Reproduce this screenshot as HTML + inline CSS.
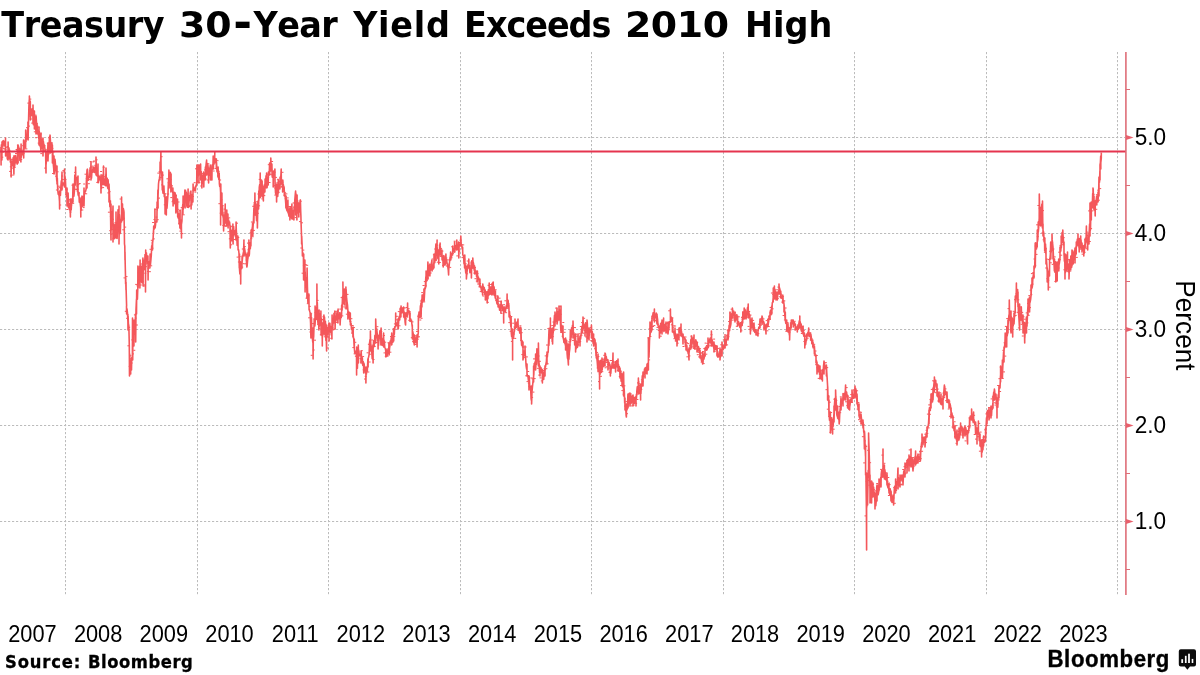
<!DOCTYPE html>
<html lang="en"><head><meta charset="utf-8"><title>Treasury 30-Year Yield Exceeds 2010 High</title>
<style>
html,body{margin:0;padding:0;background:#fff;}
body{width:1200px;height:675px;overflow:hidden;position:relative;}
svg{position:absolute;left:0;top:0;display:block;will-change:transform;}
.title{font-family:"DejaVu Sans","Liberation Sans",sans-serif;font-weight:bold;font-size:33.5px;fill:#000;font-kerning:none;}
.tick{font-family:"Liberation Sans",sans-serif;font-size:23.2px;fill:#000;}
.year{font-family:"Liberation Sans",sans-serif;font-size:22.5px;fill:#000;text-anchor:middle;}
.ylab{font-family:"Liberation Sans",sans-serif;font-size:27.5px;fill:#000;text-anchor:middle;}
.src{font-family:"DejaVu Sans","Liberation Sans",sans-serif;font-weight:bold;font-size:16.4px;fill:#000;letter-spacing:0.55px;stroke:#000;stroke-width:0.3px;}
.logo{font-family:"Liberation Sans",sans-serif;font-weight:bold;font-size:22.2px;fill:#000;letter-spacing:0.6px;stroke:#000;stroke-width:0.35px;}
</style></head><body>
<svg width="1200" height="675" viewBox="0 0 1200 675">
<rect width="1200" height="675" fill="#ffffff"/>
<g class="title"><text transform="translate(1.36,37.2) scale(1,1.057)" letter-spacing="-0.510">Treasury</text> <text transform="translate(179.12,37.2) scale(1.13,1.057)" letter-spacing="-0.168">30</text><text transform="translate(233.30,38.3) scale(1.35,1.34)" letter-spacing="0.000">-</text><text transform="translate(253.45,37.2) scale(1,1.057)" letter-spacing="-0.553">Year</text> <text transform="translate(353.15,37.2) scale(1,1.057)" letter-spacing="0.720">Yield</text> <text transform="translate(464.09,37.2) scale(1,1.057)" letter-spacing="-1.050">Exceeds</text> <text transform="translate(624.91,37.2) scale(1.13,1.057)" letter-spacing="-0.360">2010</text> <text transform="translate(745.09,37.2) scale(1,1.057)" letter-spacing="-0.047">High</text> </g>
<g stroke="#bcbcbc" stroke-width="1" stroke-dasharray="2.2 1.8" fill="none">
<line x1="65.5" y1="52" x2="65.5" y2="595"/>
<line x1="197.5" y1="52" x2="197.5" y2="595"/>
<line x1="328.5" y1="52" x2="328.5" y2="595"/>
<line x1="460.5" y1="52" x2="460.5" y2="595"/>
<line x1="591.5" y1="52" x2="591.5" y2="595"/>
<line x1="723.5" y1="52" x2="723.5" y2="595"/>
<line x1="854.5" y1="52" x2="854.5" y2="595"/>
<line x1="986.5" y1="52" x2="986.5" y2="595"/>
<line x1="1117.5" y1="52" x2="1117.5" y2="595"/>
<line x1="0" y1="137.5" x2="1125" y2="137.5"/>
<line x1="0" y1="233.5" x2="1125" y2="233.5"/>
<line x1="0" y1="329.5" x2="1125" y2="329.5"/>
<line x1="0" y1="425.5" x2="1125" y2="425.5"/>
<line x1="0" y1="521.5" x2="1125" y2="521.5"/>
</g>
<path d="M0.9,147.0 1.1,165.0 1.0,156.0 1.4,144.8 1.9,148.3 1.9,160.0 2.0,142.0 2.4,141.6 2.8,146.7 3.3,140.6 3.7,141.2 4.2,141.3 4.6,145.9 5.1,141.4 5.5,143.9 5.5,138.0 5.6,156.0 6.0,151.9 6.4,153.6 6.9,152.2 7.3,158.8 7.8,159.6 8.0,160.0 8.1,142.0 8.2,151.0 8.7,147.6 9.1,148.8 9.5,158.9 10.0,153.3 10.4,162.1 10.9,162.7 10.9,159.0 11.1,177.0 11.3,167.4 11.8,161.9 12.2,161.4 12.7,165.6 13.1,157.7 13.6,162.7 13.9,174.0 14.1,156.0 14.0,161.7 14.5,167.0 14.9,163.8 15.4,155.5 15.8,157.8 16.3,162.7 16.7,160.5 17.2,164.1 17.6,149.2 17.9,145.0 18.1,163.0 18.1,151.3 18.5,146.1 19.0,152.8 19.4,148.2 19.9,160.4 20.3,157.1 20.8,161.0 20.9,162.0 21.1,144.0 21.2,157.5 21.7,153.9 22.1,151.5 22.6,153.1 23.0,154.5 23.5,147.6 23.6,140.0 23.7,158.0 23.9,140.4 24.4,148.2 24.8,146.1 25.3,147.2 25.6,148.0 25.7,130.0 25.7,138.8 26.2,140.2 26.6,134.8 27.1,138.3 27.5,131.2 28.0,126.8 27.9,122.0 28.1,140.0 28.4,126.3 28.9,106.4 29.3,99.5 29.3,114.0 29.4,96.0 29.8,108.5 30.2,101.1 30.3,102.0 30.4,120.0 30.7,108.9 31.1,115.1 31.6,115.5 32.0,109.1 32.5,113.3 32.9,114.8 33.0,123.0 33.0,105.0 33.4,124.7 33.8,117.3 34.3,119.7 34.4,111.0 34.4,129.0 34.7,122.1 35.2,124.4 35.6,124.6 36.0,134.0 36.0,116.0 36.1,116.4 36.5,122.6 37.0,123.7 37.5,133.9 37.9,133.0 38.4,133.4 38.8,138.6 39.0,127.0 39.0,145.0 39.3,131.4 39.7,145.1 40.2,146.3 40.6,147.3 41.0,151.0 41.0,133.0 41.1,143.4 41.5,141.1 42.0,148.2 42.4,139.5 42.9,141.2 43.0,138.0 43.0,156.0 43.3,141.2 43.8,144.9 44.2,144.8 44.7,147.4 45.1,149.9 45.6,152.5 46.0,173.0 46.0,155.0 46.0,165.1 46.5,159.9 46.9,153.3 47.4,151.1 47.8,147.7 48.0,143.0 48.0,161.0 48.3,151.6 48.7,151.8 49.2,142.3 49.6,136.6 50.0,153.0 50.0,135.0 50.1,135.2 50.5,142.1 51.0,152.5 51.4,143.8 51.9,142.8 52.3,151.0 52.4,145.0 52.4,163.0 52.8,151.2 53.2,162.9 53.7,168.7 54.0,174.0 54.0,156.0 54.1,174.0 54.6,170.0 55.0,159.3 55.5,164.8 55.9,166.2 56.4,175.8 56.8,181.1 57.0,166.0 57.0,184.0 57.3,178.1 57.7,189.6 58.2,194.2 58.6,194.3 59.1,195.8 59.5,201.5 59.6,209.0 59.6,191.0 60.0,194.7 60.4,195.4 60.9,186.0 61.3,181.2 61.8,179.7 62.0,172.0 62.0,190.0 62.2,182.7 62.7,185.0 63.1,183.1 63.6,184.0 64.0,183.7 64.4,187.0 64.5,169.0 64.5,173.7 64.9,176.7 65.4,179.2 65.8,188.3 66.3,194.9 66.7,196.7 67.0,188.0 67.0,206.0 67.2,196.0 67.6,200.7 68.1,193.0 68.5,207.5 69.0,207.9 69.4,209.6 69.9,203.6 70.3,213.1 70.4,217.0 70.5,199.0 70.8,204.1 71.2,209.9 71.7,200.4 72.1,199.2 72.6,202.6 73.0,184.0 73.0,202.0 73.0,192.7 73.5,189.7 73.9,196.1 74.4,190.9 74.8,175.1 75.3,180.8 75.5,185.0 75.6,167.0 75.7,177.1 76.2,177.2 76.6,178.6 77.1,177.4 77.5,191.7 78.0,185.8 78.0,176.0 78.0,194.0 78.4,195.6 78.9,192.5 79.3,202.3 79.8,198.0 80.2,203.2 80.7,207.7 80.8,217.0 80.8,199.0 81.1,210.5 81.6,201.8 82.0,196.0 82.5,206.2 82.9,197.1 83.4,199.4 83.8,202.7 84.0,188.0 84.0,206.0 84.3,193.7 84.7,192.3 85.2,192.0 85.6,191.1 86.1,189.1 86.5,178.9 87.0,170.3 87.0,188.0 87.0,170.0 87.4,169.2 87.9,174.1 88.3,180.1 88.8,176.8 89.2,177.6 89.7,176.2 90.1,167.8 90.6,174.4 91.0,162.0 91.0,180.0 91.0,170.0 91.5,178.1 91.9,171.7 92.4,169.9 92.8,172.3 93.3,167.2 93.7,171.2 94.2,171.3 94.6,172.4 95.1,167.4 95.5,166.3 96.0,172.6 96.0,175.0 96.0,157.0 96.4,170.6 96.9,175.8 97.3,168.9 97.8,176.3 98.0,164.0 98.0,182.0 98.2,182.7 98.7,175.2 99.1,176.9 99.6,178.1 100.0,180.1 100.5,177.2 100.9,187.0 101.0,193.0 101.0,175.0 101.4,188.7 101.8,177.4 102.3,184.1 102.7,175.3 103.2,184.6 103.5,166.0 103.6,184.0 103.6,173.7 104.1,184.4 104.5,179.1 105.0,185.1 105.4,185.2 105.9,173.9 106.0,186.0 106.0,168.0 106.3,178.7 106.8,178.3 107.2,178.4 107.7,188.1 108.1,179.9 108.6,189.6 109.0,184.0 109.0,202.0 109.0,184.0 109.5,194.4 109.9,206.8 110.4,200.8 110.8,231.5 111.0,240.0 111.0,204.0 111.3,230.3 111.7,211.6 112.2,220.6 112.6,218.4 113.0,206.0 113.0,242.0 113.1,229.3 113.5,223.8 114.0,230.2 114.4,238.6 114.9,225.6 115.3,224.1 115.8,234.2 116.0,238.0 116.0,212.0 116.2,237.1 116.7,223.9 117.1,238.5 117.6,226.1 118.0,209.7 118.5,217.8 118.9,230.2 119.0,206.0 119.0,244.0 119.4,214.5 119.8,218.9 120.3,233.4 120.7,221.7 121.2,220.1 121.5,222.0 121.6,197.0 121.6,221.3 122.1,207.1 122.5,204.0 122.5,220.0 122.5,210.5 123.0,208.2 123.4,208.8 123.9,211.2 124.0,220.0 124.0,212.0 124.3,230.1 124.4,236.0 124.5,244.0 124.8,246.2 125.0,260.0 125.0,252.0 125.2,263.8 125.5,276.0 125.6,284.0 125.7,277.8 126.0,290.0 126.0,282.0 126.1,288.6 126.6,305.9 126.5,306.0 126.6,314.0 127.0,308.9 127.5,313.3 127.9,321.5 128.0,330.0 128.1,316.0 128.4,323.5 128.8,325.6 128.9,328.0 129.1,336.0 129.3,345.9 129.5,376.0 129.7,354.0 129.7,354.6 130.2,368.4 130.5,360.0 130.7,374.0 130.6,366.7 131.1,368.8 131.5,362.8 131.5,370.0 131.7,358.0 132.0,357.6 132.4,356.8 132.5,318.0 132.7,360.0 132.9,332.5 133.3,341.8 133.8,339.5 133.9,346.0 134.1,320.0 134.2,334.5 134.7,327.6 135.1,324.7 135.6,318.7 135.5,314.0 135.7,342.0 136.0,309.6 136.5,298.9 136.5,314.0 136.7,290.0 136.9,290.6 137.4,299.3 137.8,287.9 137.9,266.0 138.1,288.0 138.3,277.6 138.7,277.7 139.2,277.0 139.6,266.2 139.9,288.0 140.1,260.0 140.1,263.6 140.5,280.3 141.0,281.6 141.4,266.3 141.9,282.8 142.3,268.5 142.8,261.9 142.9,258.0 143.1,286.0 143.2,268.8 143.7,269.3 144.1,260.1 144.6,269.1 145.0,254.6 145.5,257.6 145.5,292.0 145.7,250.0 145.9,265.3 146.4,252.7 146.8,258.9 147.3,256.0 147.7,262.9 147.9,256.0 148.1,280.0 148.2,264.4 148.6,264.0 149.1,265.7 149.5,261.6 150.0,260.6 149.9,268.0 150.1,254.0 150.4,265.0 150.8,261.0 151.3,255.1 151.7,245.8 152.2,247.8 152.3,242.0 152.5,250.0 152.6,242.8 153.1,238.8 153.5,230.2 153.5,234.0 153.7,226.0 154.0,229.5 154.4,226.4 154.9,227.7 154.9,209.0 155.1,228.0 155.3,226.7 155.8,221.7 156.2,221.9 156.7,221.0 156.9,222.0 157.1,202.0 157.1,210.9 157.6,203.9 157.9,190.0 158.1,208.0 158.0,197.6 158.5,184.0 158.9,180.6 159.4,178.7 159.8,175.8 159.9,180.0 160.1,162.0 160.3,172.1 160.7,159.9 160.9,152.0 161.1,170.0 161.2,171.1 161.6,172.6 162.1,179.8 162.3,190.0 162.5,172.0 162.5,187.5 163.0,193.1 163.4,187.4 163.9,186.1 164.3,196.8 164.8,194.3 164.9,196.0 165.1,214.0 165.2,204.8 165.7,202.5 166.1,204.2 166.3,215.0 166.5,197.0 166.6,206.6 167.0,208.3 167.5,201.0 167.9,195.5 168.4,182.5 168.8,176.8 168.9,170.0 169.1,188.0 169.3,180.3 169.7,176.2 170.2,172.4 170.6,173.3 170.9,192.0 171.1,174.0 171.1,183.7 171.5,187.0 172.0,189.8 172.4,190.5 172.9,193.0 172.9,188.0 173.1,206.0 173.3,194.6 173.8,201.9 174.2,192.2 174.7,203.8 175.1,193.0 175.6,201.1 175.9,213.0 176.1,195.0 176.0,210.8 176.5,210.0 176.9,208.7 177.4,209.1 177.5,199.0 177.7,217.0 177.8,210.9 178.3,218.2 178.7,213.8 179.2,224.3 179.6,215.9 179.9,228.0 180.1,210.0 180.1,226.4 180.5,228.8 181.0,229.3 181.3,220.0 181.5,238.0 181.4,224.6 181.9,221.4 182.3,209.7 182.8,204.2 182.9,214.0 183.1,196.0 183.2,208.6 183.7,203.4 184.1,198.0 184.6,197.4 184.9,190.0 185.1,208.0 185.0,203.2 185.5,190.3 185.9,201.6 186.4,192.8 186.8,206.0 187.3,207.2 187.7,198.1 187.9,207.0 188.1,189.0 188.2,199.1 188.6,207.4 189.1,201.4 189.5,197.0 190.0,194.7 190.4,191.9 190.9,193.1 190.9,191.0 191.1,209.0 191.3,194.8 191.8,204.3 192.2,194.5 192.7,198.4 192.9,202.0 193.1,184.0 193.1,189.6 193.6,187.8 194.0,190.6 194.5,190.3 194.9,188.5 195.4,190.6 195.8,185.7 196.3,185.9 196.7,183.7 196.9,165.0 197.1,183.0 197.2,174.9 197.6,175.6 198.1,165.2 198.5,165.0 199.0,179.5 198.9,183.0 199.1,165.0 199.4,174.8 199.9,170.5 200.3,167.5 200.6,164.0 200.8,180.0 200.8,174.6 201.2,171.5 201.7,181.4 201.9,188.0 202.1,175.0 202.1,184.1 202.6,180.5 203.0,175.9 203.5,174.2 203.6,172.0 203.8,187.0 203.9,180.8 204.4,174.0 204.8,176.4 205.3,175.8 205.2,180.0 205.4,167.0 205.7,168.2 206.2,163.3 206.6,160.3 206.6,160.0 206.8,175.0 207.1,163.7 207.5,164.0 208.0,165.8 208.4,171.2 208.6,183.0 208.8,168.0 208.9,173.8 209.3,171.8 209.8,173.8 210.2,175.4 210.3,165.0 210.5,180.0 210.7,173.4 211.1,168.8 211.6,178.4 211.9,180.0 212.1,165.0 212.0,167.0 212.5,167.3 212.9,167.0 213.2,156.0 213.4,169.0 213.4,158.3 213.8,158.4 214.3,159.1 214.6,163.0 214.8,152.0 214.7,157.2 215.2,162.2 215.6,162.3 216.1,158.9 216.2,159.0 216.4,168.0 216.5,162.3 217.0,171.7 217.4,171.1 217.9,174.0 217.9,177.0 218.1,167.0 218.3,174.4 218.8,179.4 219.2,179.1 219.2,173.0 219.4,184.0 219.7,186.5 220.1,184.0 220.6,192.4 220.6,225.0 220.8,184.0 221.0,213.9 221.5,211.0 221.9,210.3 221.9,193.0 222.1,215.0 222.4,205.9 222.8,215.4 223.3,218.3 223.6,231.0 223.8,215.0 223.7,219.3 224.2,225.8 224.6,214.9 225.1,217.5 225.2,204.0 225.4,223.0 225.5,213.7 226.0,214.2 226.4,223.9 226.6,226.0 226.8,210.0 226.9,223.1 227.3,214.6 227.8,218.3 227.9,214.0 228.1,228.0 228.2,220.4 228.7,220.0 229.1,224.7 229.6,222.0 230.0,226.6 230.3,248.0 230.5,226.0 230.5,240.7 230.9,235.9 231.4,240.6 231.8,230.3 232.3,230.2 232.7,241.3 232.9,224.0 233.1,244.0 233.2,230.4 233.6,226.6 234.1,234.6 234.5,234.0 235.0,230.9 235.4,236.4 235.9,229.4 235.9,240.0 236.1,222.0 236.3,229.8 236.8,237.6 237.2,245.4 237.7,240.3 237.9,236.0 238.1,250.0 238.1,249.1 238.6,250.0 239.0,253.5 239.3,268.0 239.5,254.0 239.5,268.9 239.9,274.0 240.4,267.9 240.5,262.0 240.7,284.0 240.8,265.9 241.3,262.5 241.7,268.6 241.9,268.0 242.1,256.0 242.2,261.5 242.6,256.9 243.1,254.0 243.5,251.9 244.0,240.0 243.9,240.0 244.1,256.0 244.4,247.9 244.9,250.3 245.3,254.0 245.8,255.0 246.2,257.0 246.7,265.9 246.9,267.0 247.1,254.0 247.1,266.2 247.6,260.2 248.0,257.9 248.5,250.1 248.9,247.6 248.9,240.0 249.1,256.0 249.4,254.0 249.8,243.1 250.3,248.7 250.7,242.5 250.9,246.0 251.1,230.0 251.2,237.6 251.6,231.5 252.1,228.8 252.5,226.4 252.6,223.0 252.8,236.0 253.0,227.6 253.4,221.5 253.9,208.2 253.9,223.0 254.1,207.0 254.3,203.8 254.8,206.1 254.9,193.0 255.1,215.0 255.2,202.4 255.7,203.6 255.9,215.0 256.1,204.0 256.1,211.9 256.6,220.7 257.0,212.5 257.2,207.0 257.4,228.0 257.5,221.2 257.9,201.1 258.4,201.1 258.6,209.0 258.8,191.0 258.8,200.8 259.3,187.1 259.7,184.5 260.2,197.8 260.2,173.0 260.4,197.0 260.6,182.4 261.1,188.0 261.5,180.0 262.0,184.1 261.9,196.0 262.1,181.0 262.4,197.0 262.9,193.6 263.2,187.0 263.4,201.0 263.3,199.2 263.8,191.5 264.2,185.0 264.7,189.7 264.9,192.0 265.1,179.0 265.1,188.4 265.6,186.4 266.0,175.9 266.5,178.1 266.6,173.0 266.8,188.0 266.9,186.9 267.4,185.6 267.8,178.1 268.3,177.5 268.2,185.0 268.4,172.0 268.7,174.3 269.2,174.6 269.6,163.0 269.7,175.0 269.6,169.6 270.1,167.0 270.5,165.8 270.6,171.0 270.8,158.0 271.0,163.9 271.4,164.8 271.9,168.1 271.9,164.0 272.1,175.0 272.3,177.2 272.8,171.9 273.2,174.8 273.2,187.0 273.4,171.0 273.7,173.9 274.1,172.6 274.6,173.5 274.9,169.0 275.1,189.0 275.0,180.2 275.5,192.8 275.9,194.2 276.4,187.8 276.6,202.0 276.8,184.0 276.8,189.0 277.3,189.4 277.7,196.4 278.2,189.8 278.3,180.0 278.4,193.0 278.6,184.7 279.1,186.2 279.5,185.4 280.0,184.9 279.9,189.0 280.1,177.0 280.4,181.7 280.9,174.8 281.2,169.0 281.4,184.0 281.3,183.0 281.8,184.0 282.2,183.1 282.7,188.1 282.6,192.0 282.8,180.0 283.1,183.9 283.6,185.8 284.0,187.0 284.2,188.0 284.4,196.0 284.5,191.9 284.9,194.0 285.4,198.7 285.8,204.3 285.9,208.0 286.1,196.0 286.3,203.6 286.7,209.9 287.2,211.0 287.6,205.0 287.9,200.0 288.1,213.0 288.1,209.0 288.5,213.4 289.0,216.2 289.4,209.2 289.9,212.1 289.9,220.0 290.1,207.0 290.3,211.2 290.8,217.6 291.2,215.1 291.7,209.2 291.9,204.0 292.1,219.0 292.1,215.9 292.6,210.2 293.0,216.0 293.5,217.8 293.9,214.0 293.9,220.0 294.1,207.0 294.4,210.6 294.8,200.0 295.3,194.0 295.6,191.0 295.7,215.0 295.7,192.6 296.2,196.4 296.6,207.1 296.9,220.0 297.1,195.0 297.1,200.9 297.5,200.3 298.0,212.9 298.4,205.8 298.6,203.0 298.8,217.0 298.9,206.6 299.3,209.9 299.8,205.8 300.2,200.1 300.2,212.0 300.4,200.0 300.7,211.2 300.9,216.0 301.1,224.0 301.1,223.5 301.6,238.8 301.6,244.0 301.7,236.0 302.0,242.7 302.3,248.0 302.4,256.0 302.5,252.1 302.9,253.1 303.4,254.4 303.6,280.0 303.7,254.0 303.8,271.9 304.3,261.4 304.7,266.2 304.9,260.0 305.1,292.0 305.2,271.9 305.6,286.8 306.1,277.9 306.5,278.5 307.0,295.9 306.9,298.0 307.1,268.0 307.4,286.0 307.9,303.0 308.3,294.1 308.8,295.2 308.9,294.0 309.1,310.0 309.2,309.1 309.7,311.3 310.1,312.4 310.6,323.7 310.9,338.0 311.1,314.0 311.0,327.2 311.5,317.5 311.9,335.3 312.4,338.5 312.8,342.3 312.9,328.0 313.1,359.0 313.3,339.9 313.7,336.3 314.2,319.4 314.6,322.9 314.9,326.0 315.1,306.0 315.1,324.3 315.5,312.9 316.0,308.2 316.4,318.8 316.9,310.6 316.9,284.0 317.1,316.0 317.3,302.6 317.8,321.6 318.2,324.7 318.7,323.4 318.9,330.0 319.1,310.0 319.1,326.7 319.6,324.1 320.0,313.8 320.5,316.2 320.9,323.5 320.9,311.0 321.1,335.0 321.4,318.4 321.8,326.6 322.3,339.6 322.3,346.0 322.4,323.0 322.7,333.4 323.2,324.0 323.6,329.3 323.9,315.0 324.1,335.0 324.1,329.8 324.5,317.1 325.0,330.6 325.4,321.2 325.9,340.4 326.3,339.9 326.6,351.0 326.7,325.0 326.8,337.0 327.2,334.9 327.7,327.8 328.1,330.8 328.6,328.4 328.9,323.0 329.1,341.0 329.0,328.7 329.5,329.2 329.9,323.4 330.4,331.8 330.8,326.5 331.3,335.0 331.7,328.6 331.9,339.0 332.1,315.0 332.2,323.3 332.6,328.6 333.1,322.2 333.5,323.0 334.0,313.4 334.4,316.2 334.9,311.1 334.9,311.0 335.1,329.0 335.3,319.4 335.8,321.4 336.2,319.9 336.7,314.6 337.1,312.8 337.6,310.8 337.9,323.0 338.1,309.0 338.0,316.8 338.5,316.4 338.9,318.8 339.4,317.0 339.8,312.7 339.9,313.0 340.1,325.0 340.3,320.7 340.7,315.4 341.2,317.5 341.6,315.0 341.7,305.0 341.6,309.2 342.1,310.0 342.5,297.0 343.0,295.2 342.9,282.0 343.1,301.0 343.4,302.3 343.9,303.6 344.3,295.9 344.3,305.0 344.4,289.0 344.8,300.6 345.2,293.0 345.7,299.8 345.9,287.0 346.1,309.0 346.1,289.2 346.6,298.7 347.0,301.6 347.5,305.0 347.9,310.9 347.9,319.0 348.1,311.0 348.4,317.1 348.8,315.9 349.3,312.2 349.7,319.8 350.2,316.4 350.3,313.0 350.4,325.0 350.6,324.8 351.1,323.4 351.5,329.3 352.0,327.9 352.4,332.7 352.9,328.6 352.9,337.0 353.1,327.0 353.3,336.4 353.8,339.4 354.2,347.5 354.3,339.0 354.4,349.0 354.7,352.5 355.1,353.6 355.6,351.2 356.0,351.8 356.5,351.9 356.6,375.0 356.7,347.0 356.9,366.5 357.4,368.3 357.8,352.4 358.3,353.7 358.3,345.0 358.4,363.0 358.7,350.1 359.2,355.5 359.6,355.0 360.1,355.5 360.5,354.3 361.0,356.7 360.9,363.0 361.1,351.0 361.4,355.0 361.9,361.6 362.3,357.9 362.8,365.4 363.2,361.6 363.6,363.0 363.7,373.0 363.7,363.2 364.1,363.9 364.6,367.5 365.0,367.4 365.5,373.1 365.9,370.3 365.9,383.0 366.1,367.0 366.4,374.1 366.8,367.0 367.3,371.3 367.7,362.7 367.9,359.0 368.1,367.0 368.2,358.1 368.6,357.2 369.1,354.6 369.5,343.7 370.0,339.5 370.3,351.0 370.4,331.0 370.4,334.4 370.9,348.4 371.3,346.6 371.8,352.7 372.2,358.6 372.7,356.9 372.9,345.0 373.1,363.0 373.1,349.1 373.6,340.9 374.0,346.6 374.5,342.9 374.9,335.2 375.4,341.0 375.6,343.0 375.7,319.0 375.8,322.5 376.3,337.8 376.7,328.7 377.2,333.5 377.6,341.0 377.9,335.0 378.1,349.0 378.1,344.1 378.5,345.5 379.0,339.0 379.4,336.5 379.9,330.8 380.3,337.7 380.8,338.7 380.9,345.0 381.1,328.0 381.2,332.0 381.7,345.0 382.1,341.7 382.6,345.4 383.0,339.6 383.5,337.5 383.6,333.0 383.7,347.0 383.9,339.8 384.4,342.4 384.8,347.5 385.3,348.5 385.7,350.3 385.9,357.0 386.1,349.0 386.2,350.1 386.6,353.0 387.1,356.0 387.5,352.6 388.0,348.9 388.4,353.4 388.9,346.5 388.9,343.0 389.1,355.0 389.3,351.9 389.8,344.8 390.2,341.1 390.7,342.5 391.1,339.0 391.6,335.9 391.6,345.0 391.7,333.0 392.0,342.9 392.5,338.4 392.9,342.2 393.4,336.9 393.6,329.0 393.7,341.0 393.8,333.3 394.3,334.2 394.7,326.7 395.2,327.0 395.6,327.0 395.7,313.0 395.6,326.4 396.1,322.9 396.5,325.2 397.0,323.0 397.4,322.6 397.9,322.0 397.9,319.0 398.1,329.0 398.3,327.2 398.8,318.9 399.2,316.4 399.7,320.0 400.1,311.7 400.6,307.7 400.9,317.0 401.1,306.0 401.0,306.0 401.5,310.3 401.9,310.7 402.4,312.3 402.8,308.1 403.3,311.8 403.6,307.0 403.7,317.0 403.7,316.0 404.2,317.6 404.6,312.5 405.1,322.2 405.5,324.8 405.6,325.0 405.7,313.0 406.0,316.5 406.4,315.4 406.9,312.4 407.3,316.3 407.6,303.0 407.7,315.0 407.8,313.7 408.2,311.1 408.7,310.4 409.1,311.2 409.6,313.3 409.9,321.0 410.1,313.0 410.0,320.8 410.5,318.5 410.9,320.3 411.4,320.0 411.8,323.5 412.3,327.2 412.3,325.0 412.4,339.0 412.7,331.3 413.2,333.6 413.6,342.2 414.1,343.4 414.3,345.0 414.4,335.0 414.5,342.0 415.0,336.9 415.4,339.9 415.9,342.8 416.3,338.9 416.8,340.6 416.9,335.0 417.1,347.0 417.2,335.1 417.7,338.0 418.1,333.8 418.3,333.0 418.4,315.0 418.6,318.3 419.0,312.0 419.5,316.8 419.9,317.6 420.4,305.8 420.8,307.7 420.9,303.0 421.1,317.0 421.3,308.6 421.7,299.2 421.9,307.0 422.1,295.0 422.2,298.9 422.6,302.2 423.1,295.3 423.5,294.2 424.0,293.5 423.9,289.0 424.1,301.0 424.4,296.1 424.9,287.8 425.3,288.8 425.8,277.0 425.9,287.0 426.1,271.0 426.2,280.5 426.7,280.9 427.1,278.0 427.6,274.3 427.9,262.0 428.1,279.0 428.0,270.8 428.5,275.4 428.9,273.7 429.4,265.5 429.8,267.0 429.9,276.0 430.1,267.0 430.3,270.9 430.7,266.8 431.2,264.8 431.6,262.5 431.9,260.0 432.1,271.0 432.1,264.7 432.5,266.0 433.0,269.1 433.4,266.9 433.9,262.4 433.9,268.0 434.1,254.0 434.3,258.0 434.8,262.6 435.2,257.0 435.7,247.3 435.9,244.0 436.1,260.0 436.1,250.2 436.6,253.8 436.9,255.0 437.1,240.0 437.0,245.8 437.5,251.8 437.9,258.6 438.4,252.6 438.6,250.0 438.8,264.0 438.8,253.6 439.3,254.1 439.7,244.8 439.9,255.0 440.1,243.0 440.2,245.9 440.6,249.8 441.1,255.1 441.5,252.1 442.0,253.6 441.9,250.0 442.1,260.0 442.4,259.9 442.9,259.8 443.2,267.0 443.4,256.0 443.3,256.0 443.8,255.6 444.2,259.1 444.7,264.9 445.1,264.3 445.6,261.1 445.9,254.0 446.1,263.0 446.0,258.7 446.5,259.7 446.9,262.1 447.4,265.1 447.8,266.9 448.3,270.4 448.6,275.0 448.8,266.0 448.7,269.9 449.2,264.9 449.6,261.5 450.1,257.1 450.5,256.5 450.6,252.0 450.8,260.0 451.0,256.9 451.4,257.1 451.9,253.8 452.3,253.5 452.6,255.0 452.8,246.0 452.8,249.7 453.2,250.7 453.7,250.7 454.1,248.7 454.6,248.1 454.6,242.0 454.8,252.0 455.0,247.3 455.5,247.6 455.9,245.7 456.4,247.2 456.6,250.0 456.8,240.0 456.8,242.3 457.3,248.8 457.7,249.3 458.2,249.6 458.6,248.0 458.6,242.0 458.8,258.0 459.1,246.3 459.5,245.7 460.0,243.7 460.4,244.3 460.6,246.0 460.8,236.0 460.9,238.5 461.3,245.7 461.8,245.7 462.2,249.1 462.7,248.9 462.6,247.0 462.8,255.0 463.1,255.3 463.6,255.6 464.0,263.8 464.5,264.2 464.6,268.0 464.8,255.0 464.9,262.1 465.4,269.0 465.8,273.1 466.3,273.3 466.3,266.0 466.4,279.0 466.7,275.0 467.2,270.4 467.6,267.7 468.1,264.5 468.5,267.0 468.6,268.0 468.8,259.0 469.0,265.8 469.4,265.5 469.9,272.6 470.3,269.1 470.8,268.8 471.2,268.9 471.2,262.0 471.4,278.0 471.7,260.9 472.1,261.1 472.6,262.8 472.6,268.0 472.8,258.0 473.0,261.7 473.5,263.2 473.9,268.3 474.4,270.8 474.6,266.0 474.8,274.0 474.8,267.2 475.3,272.7 475.7,271.4 476.2,271.0 476.6,276.6 477.1,277.3 477.2,282.0 477.4,271.0 477.5,274.7 478.0,277.6 478.4,277.1 478.9,280.1 479.3,283.9 479.8,286.6 479.9,279.0 480.1,287.0 480.2,286.1 480.7,285.8 481.1,288.5 481.6,291.6 482.0,287.4 482.5,291.0 482.6,295.0 482.8,284.0 482.9,286.1 483.4,286.4 483.8,289.2 484.3,287.7 484.7,293.8 485.2,291.0 485.2,290.0 485.4,300.0 485.6,291.6 486.1,293.7 486.5,293.9 487.0,296.6 487.2,303.0 487.4,292.0 487.4,294.7 487.9,298.6 488.3,289.9 488.8,295.3 489.2,294.2 489.2,283.0 489.4,294.0 489.7,288.2 490.1,294.3 490.6,292.5 491.0,287.0 491.5,293.5 491.9,289.1 491.9,295.0 492.1,284.0 492.4,283.4 492.8,282.7 493.3,282.7 493.2,282.0 493.4,294.0 493.7,286.2 494.2,287.7 494.6,295.8 495.1,293.3 495.2,298.0 495.4,291.0 495.5,298.8 496.0,298.6 496.4,300.4 496.9,303.3 497.3,304.1 497.8,300.5 497.9,296.0 498.1,307.0 498.2,306.0 498.7,305.6 499.1,305.7 499.6,310.2 500.0,308.0 500.5,305.6 500.9,304.1 500.9,313.0 501.1,301.0 501.4,307.7 501.8,307.5 502.3,305.0 502.7,309.5 503.2,310.8 503.6,309.0 503.7,323.0 503.6,316.9 504.1,306.8 504.5,311.3 505.0,311.4 505.4,311.5 505.9,307.4 506.3,305.8 506.8,307.9 506.9,307.0 507.1,294.0 507.2,306.3 507.7,306.3 508.1,300.4 508.6,307.1 508.9,305.0 509.1,317.0 509.0,313.3 509.5,311.6 509.9,317.2 510.4,320.3 510.8,326.2 510.9,327.0 511.1,317.0 511.3,333.2 511.7,336.8 512.2,332.8 512.6,329.0 512.6,360.0 512.6,330.8 513.1,336.1 513.5,338.2 514.0,332.9 514.4,331.4 514.9,326.5 515.0,329.0 515.0,319.0 515.3,328.5 515.8,323.7 516.2,327.5 516.7,324.4 517.1,322.2 517.6,323.7 518.0,319.0 518.0,329.0 518.0,324.7 518.5,328.8 518.9,327.8 519.4,330.5 519.8,333.0 520.3,333.2 520.7,327.3 521.0,340.0 521.0,328.0 521.2,337.7 521.6,345.1 522.1,340.9 522.5,346.9 523.0,345.5 523.0,342.0 523.0,360.0 523.4,357.0 523.9,351.5 524.3,350.9 524.8,352.2 525.0,356.0 525.0,346.0 525.2,353.5 525.7,359.3 526.1,365.9 526.6,369.0 527.0,364.0 527.0,376.0 527.0,373.6 527.5,376.0 527.9,375.6 528.4,380.5 528.8,375.7 529.0,390.0 529.0,376.0 529.3,377.2 529.7,386.0 530.2,386.1 530.6,387.4 531.1,398.9 531.5,400.9 531.6,386.0 531.6,404.0 532.0,392.0 532.4,387.3 532.9,382.3 533.3,377.6 533.6,382.0 533.6,366.0 533.8,375.1 534.2,363.5 534.7,369.3 535.1,361.8 535.6,370.0 535.6,354.0 535.6,370.0 536.0,363.8 536.5,364.3 536.9,348.7 537.4,351.4 537.8,355.1 538.3,362.7 538.4,366.0 538.4,343.0 538.7,359.3 539.2,364.8 539.6,372.8 540.0,366.0 540.0,376.0 540.1,370.0 540.5,368.4 541.0,367.7 541.4,372.5 541.9,369.2 542.3,369.9 542.4,383.0 542.4,370.0 542.8,377.9 543.2,372.4 543.7,379.5 544.1,371.7 544.6,372.6 545.0,366.0 545.0,376.0 545.0,365.7 545.5,366.9 545.9,363.9 546.4,361.5 546.8,354.3 547.0,364.0 547.0,352.0 547.3,357.3 547.7,352.9 548.2,352.0 548.6,340.5 549.0,330.0 549.0,344.0 549.1,341.0 549.5,330.4 550.0,328.3 550.4,338.0 550.4,318.0 550.4,338.1 550.9,328.2 551.3,332.0 551.8,330.3 552.2,341.6 552.6,328.0 552.6,344.0 552.7,337.4 553.1,333.0 553.6,329.9 554.0,322.8 554.5,315.3 554.9,320.4 555.0,326.0 555.0,312.0 555.4,316.5 555.8,321.1 556.3,317.8 556.7,316.7 557.0,308.0 557.0,324.0 557.2,322.9 557.6,320.6 558.1,317.6 558.5,311.5 559.0,319.5 559.0,320.0 559.0,306.0 559.4,316.6 559.9,310.3 560.3,318.5 560.8,330.5 561.0,306.0 561.0,332.0 561.2,328.1 561.7,325.2 562.1,329.6 562.6,331.4 563.0,338.0 563.0,326.0 563.0,336.9 563.5,338.4 563.9,342.4 564.4,339.7 564.8,339.1 565.3,345.2 565.6,338.0 565.6,350.0 565.7,347.0 566.2,349.5 566.6,340.2 567.1,353.8 567.5,358.2 568.0,359.5 568.4,365.0 568.4,344.0 568.4,355.8 568.9,359.3 569.3,352.5 569.8,348.9 570.2,338.7 570.4,330.0 570.4,342.0 570.7,338.5 571.1,337.9 571.6,327.8 572.0,332.7 572.5,325.2 572.9,331.4 573.0,338.0 573.0,321.0 573.4,334.1 573.8,332.6 574.3,335.3 574.7,344.9 575.2,342.9 575.6,334.0 575.6,352.0 575.6,339.9 576.1,349.0 576.5,341.4 577.0,345.1 577.4,347.4 577.9,343.2 578.0,346.0 578.0,334.0 578.3,342.9 578.8,340.7 579.2,340.2 579.7,339.6 580.0,336.0 580.0,346.0 580.1,339.6 580.6,339.0 581.0,335.3 581.5,330.6 581.9,326.4 582.4,332.6 582.8,320.5 583.0,330.0 583.0,317.0 583.3,325.6 583.7,328.1 584.2,327.3 584.6,325.7 585.0,324.0 585.0,336.0 585.1,327.9 585.5,322.9 586.0,332.5 586.4,330.5 586.9,324.9 587.0,342.0 587.0,320.0 587.3,323.1 587.8,334.1 588.2,338.4 588.7,336.1 589.0,328.0 589.0,340.0 589.1,336.5 589.6,330.3 590.0,329.2 590.5,331.9 590.9,331.9 591.4,328.7 591.4,338.0 591.4,325.0 591.8,333.3 592.3,331.7 592.7,340.4 593.2,343.6 593.6,334.0 593.6,346.0 593.6,344.3 594.1,342.0 594.5,338.9 595.0,339.8 595.4,347.2 595.9,352.3 596.0,356.0 596.0,344.0 596.3,357.9 596.8,358.0 597.2,361.5 597.7,367.9 598.0,354.0 598.0,370.0 598.1,371.8 598.6,361.5 599.0,360.8 599.5,364.5 599.6,389.0 599.6,362.0 599.9,374.5 600.4,370.5 600.8,360.2 601.3,372.4 601.8,370.6 602.0,358.0 602.0,370.0 602.2,369.7 602.7,361.0 603.1,366.7 603.6,366.3 604.0,361.3 604.5,358.1 604.9,359.6 605.0,366.0 605.0,353.0 605.4,353.9 605.8,356.9 606.3,356.7 606.7,361.0 607.2,359.8 607.6,359.6 608.0,360.0 608.0,370.0 608.1,364.6 608.5,365.7 609.0,362.4 609.4,363.5 609.9,364.6 610.3,372.9 610.4,376.0 610.4,366.0 610.8,373.4 611.2,367.6 611.7,368.3 612.1,363.0 612.6,367.7 613.0,353.0 613.0,366.0 613.0,364.5 613.5,364.0 613.9,368.1 614.4,365.1 614.8,366.1 615.3,362.5 615.6,372.0 615.6,362.0 615.7,361.9 616.2,366.1 616.6,360.7 617.1,367.0 617.5,362.4 618.0,361.9 618.0,359.0 618.0,370.0 618.4,364.3 618.9,370.7 619.3,366.6 619.8,371.1 620.0,378.0 620.0,368.0 620.2,371.2 620.7,370.8 621.1,381.3 621.6,376.1 622.0,374.0 622.0,386.0 622.0,385.0 622.5,381.9 622.9,387.1 623.4,385.2 623.6,396.0 623.6,372.0 623.8,384.5 624.3,391.1 624.7,403.3 625.0,398.0 625.0,410.0 625.2,409.0 625.6,405.0 626.1,415.3 626.4,417.0 626.4,404.0 626.5,407.6 627.0,409.9 627.4,407.8 627.9,394.9 628.0,394.0 628.0,408.0 628.3,402.2 628.8,394.5 629.2,393.4 629.7,401.7 630.0,406.0 630.0,393.0 630.1,394.8 630.6,398.2 631.0,403.6 631.5,400.9 631.9,396.1 632.4,395.9 632.8,400.1 633.0,395.0 633.0,406.0 633.3,397.1 633.7,397.6 634.2,403.6 634.6,401.0 635.1,397.6 635.5,398.9 636.0,400.0 636.0,406.0 636.0,396.0 636.4,398.7 636.9,390.3 637.3,386.7 637.8,392.3 638.2,390.9 638.4,378.0 638.4,394.0 638.7,381.3 639.1,391.5 639.6,392.5 640.0,393.7 640.5,389.9 640.6,400.0 640.6,384.0 640.9,393.7 641.4,384.7 641.8,386.0 642.3,375.7 642.7,380.4 643.0,372.0 643.0,386.0 643.2,374.1 643.6,373.8 644.1,374.5 644.5,369.0 645.0,370.3 645.0,378.0 645.0,368.0 645.4,370.8 645.9,367.6 646.3,373.1 646.8,373.0 647.0,364.0 647.0,374.0 647.2,366.4 647.7,363.2 648.1,366.8 648.4,370.0 648.4,338.0 648.6,345.5 649.0,357.2 649.5,341.3 649.9,334.1 650.0,322.0 650.0,336.0 650.4,332.0 650.8,323.8 651.3,331.9 651.7,320.6 652.0,330.0 652.0,316.0 652.2,317.4 652.6,316.7 653.1,312.9 653.5,313.3 654.0,320.1 654.4,309.0 654.4,322.0 654.4,313.4 654.9,318.1 655.3,316.6 655.8,316.7 656.2,313.0 656.7,321.0 657.0,324.0 657.0,314.0 657.1,316.0 657.6,319.5 658.0,325.5 658.5,326.6 658.9,327.0 659.4,331.4 659.4,326.0 659.4,338.0 659.8,332.1 660.3,333.0 660.7,323.6 661.2,327.9 661.6,322.0 662.0,334.0 662.0,320.0 662.1,329.8 662.5,325.6 663.0,326.1 663.4,330.4 663.6,318.0 663.6,330.0 663.9,327.0 664.3,330.9 664.8,329.5 665.2,324.2 665.7,325.2 666.0,333.0 666.0,322.0 666.1,326.2 666.6,329.1 667.0,332.0 667.5,333.0 667.9,327.7 668.0,322.0 668.0,334.0 668.4,330.1 668.8,330.0 669.3,322.0 669.7,321.7 670.2,321.8 670.4,322.0 670.4,309.0 670.6,320.8 671.1,316.7 671.5,321.1 672.0,317.8 672.4,320.0 672.4,332.0 672.4,321.8 672.9,331.2 673.3,332.4 673.8,331.5 674.2,334.9 674.7,337.2 675.0,338.0 675.0,328.0 675.1,331.8 675.6,338.7 676.0,341.0 676.5,337.4 676.9,339.8 677.0,334.0 677.0,346.0 677.4,338.0 677.8,334.9 678.3,337.3 678.7,339.2 679.0,338.0 679.0,328.0 679.2,332.9 679.6,331.2 680.1,327.6 680.5,331.7 681.0,335.1 681.0,324.0 681.0,336.0 681.4,330.8 681.9,334.3 682.3,336.6 682.8,334.9 683.0,344.0 683.0,334.0 683.2,335.7 683.7,337.0 684.1,337.0 684.6,338.2 685.0,338.4 685.5,346.0 685.9,345.4 686.0,340.0 686.0,350.0 686.4,346.6 686.8,345.2 687.3,351.2 687.7,350.7 688.2,353.7 688.6,353.5 689.0,360.0 689.0,348.0 689.1,352.6 689.5,349.4 690.0,349.3 690.4,345.1 690.9,339.5 691.3,340.8 691.6,336.0 691.6,348.0 691.8,345.2 692.2,343.2 692.7,341.4 693.1,338.2 693.6,337.2 694.0,348.0 694.0,335.0 694.0,344.2 694.5,341.0 694.9,349.2 695.4,344.9 695.8,339.9 696.3,341.8 696.7,346.0 697.0,342.0 697.0,352.0 697.2,342.7 697.6,351.2 698.1,350.1 698.5,346.6 699.0,348.8 699.4,352.4 699.9,353.3 700.0,358.0 700.0,350.0 700.3,355.7 700.8,355.3 701.2,359.0 701.7,361.3 702.1,359.5 702.6,363.0 702.6,352.0 702.6,364.0 703.0,362.7 703.5,354.4 703.9,359.2 704.4,356.9 704.8,352.9 705.0,356.0 705.0,348.0 705.3,349.7 705.7,347.4 706.2,346.9 706.6,350.2 707.1,349.7 707.5,346.5 708.0,345.6 708.0,338.0 708.0,348.0 708.4,347.1 708.9,341.9 709.3,341.0 709.8,339.2 710.2,338.1 710.7,342.9 711.1,339.5 711.4,346.0 711.4,331.0 711.6,339.9 712.0,339.4 712.5,341.4 712.9,345.6 713.4,345.5 713.8,348.4 714.0,342.0 714.0,352.0 714.3,344.0 714.7,348.3 715.2,349.3 715.6,345.6 716.1,349.8 716.5,348.8 717.0,349.8 717.0,356.0 717.0,346.0 717.4,354.7 717.9,357.1 718.3,356.8 718.8,354.1 719.2,353.3 719.7,355.2 720.0,348.0 720.0,360.0 720.1,358.3 720.6,355.6 721.0,355.2 721.5,349.6 721.9,350.1 722.0,356.0 722.0,342.0 722.4,349.2 722.8,345.3 723.3,349.2 723.7,348.0 724.2,345.3 724.6,346.4 725.0,336.0 725.0,348.0 725.1,342.1 725.5,342.0 726.0,345.5 726.4,339.6 726.9,339.5 727.3,334.8 727.8,335.4 728.0,340.0 728.0,330.0 728.2,338.8 728.7,332.9 729.1,325.6 729.6,330.7 730.0,312.0 730.0,328.0 730.0,327.8 730.5,326.1 730.9,323.9 731.4,314.3 731.8,313.6 732.3,313.6 732.4,318.0 732.4,308.0 732.7,310.4 733.2,311.3 733.6,315.7 734.1,314.4 734.5,320.4 735.0,318.5 735.0,312.0 735.0,322.0 735.4,317.6 735.9,320.0 736.3,315.6 736.8,314.7 737.2,317.1 737.6,326.0 737.6,316.0 737.7,323.7 738.1,324.7 738.6,321.7 739.0,324.7 739.5,323.7 739.9,327.4 740.4,327.4 740.7,323.0 740.8,332.0 740.8,327.9 741.3,325.4 741.7,321.9 742.2,325.5 742.6,316.2 742.7,323.0 742.8,312.0 743.1,312.6 743.5,313.1 744.0,314.6 744.2,308.0 744.3,319.0 744.4,312.1 744.9,309.3 745.3,310.6 745.8,317.4 746.0,319.0 746.0,312.0 746.2,318.1 746.7,314.1 747.1,310.5 747.6,307.3 748.0,314.0 748.2,304.0 748.3,318.0 748.5,310.9 748.9,312.5 749.4,315.3 749.8,315.0 750.3,324.8 750.4,334.0 750.4,319.0 750.7,331.1 751.2,325.8 751.6,324.3 752.0,318.0 752.0,327.0 752.1,321.2 752.5,327.9 753.0,324.1 753.4,329.5 753.9,330.3 754.0,331.0 754.0,323.0 754.3,330.3 754.8,332.4 755.2,330.2 755.7,329.6 756.0,330.0 756.0,335.0 756.1,332.2 756.6,334.5 757.0,333.8 757.5,335.5 757.9,333.3 758.0,336.0 758.0,331.0 758.4,329.5 758.8,327.3 759.3,326.7 759.7,328.3 760.0,319.0 760.0,327.0 760.2,321.9 760.6,321.9 761.1,319.9 761.5,318.1 762.0,317.4 762.0,324.0 762.0,316.0 762.4,317.4 762.9,322.6 763.3,321.2 763.8,322.1 764.0,323.0 764.0,330.0 764.2,323.8 764.7,324.5 765.1,328.1 765.6,326.5 766.0,334.0 766.0,326.0 766.0,326.0 766.5,324.4 766.9,324.0 767.4,326.8 767.8,324.0 768.0,319.0 768.0,326.0 768.3,323.6 768.7,320.9 769.2,315.8 769.6,316.4 770.0,319.0 770.0,312.0 770.1,312.9 770.5,310.4 771.0,314.8 771.4,312.1 771.7,306.0 771.8,314.0 771.9,311.0 772.3,302.9 772.8,301.9 773.2,297.7 773.2,302.0 773.3,288.0 773.7,292.7 774.1,289.5 774.4,286.0 774.4,299.0 774.6,291.8 775.0,289.4 775.5,296.0 775.9,294.4 776.0,300.0 776.0,292.0 776.4,294.6 776.8,292.6 777.3,293.2 777.2,292.0 777.3,300.0 777.7,294.5 778.2,293.3 778.6,291.6 779.0,294.0 779.0,284.0 779.1,286.7 779.5,288.0 780.0,289.8 780.4,294.5 780.7,291.0 780.8,298.0 780.9,293.5 781.3,296.8 781.8,298.2 782.2,297.5 782.7,298.0 782.7,303.0 782.8,295.0 783.1,299.4 783.6,301.0 784.0,304.0 784.0,312.0 784.0,304.2 784.5,308.9 784.9,316.2 785.2,320.0 785.3,312.0 785.4,320.1 785.8,323.5 786.3,321.3 786.7,320.0 786.8,331.0 786.7,323.5 787.2,328.6 787.6,328.0 788.0,332.0 788.0,324.0 788.1,326.3 788.5,329.8 789.0,332.0 789.4,335.2 789.6,328.0 789.6,340.0 789.9,329.7 790.3,329.4 790.8,322.7 791.2,325.7 791.2,328.0 791.3,320.0 791.7,323.8 792.1,320.0 792.6,320.2 793.0,321.8 793.2,320.0 793.3,327.0 793.5,323.7 793.9,324.1 794.4,322.4 794.8,325.5 795.3,324.3 795.2,330.0 795.3,324.0 795.7,328.2 796.2,328.3 796.6,327.2 797.1,328.9 797.2,327.0 797.3,332.0 797.5,328.5 798.0,325.2 798.4,329.1 798.9,324.3 799.3,320.9 799.7,328.0 799.8,316.0 799.8,327.6 800.2,322.0 800.7,324.8 801.1,325.3 801.2,324.0 801.3,331.0 801.6,326.7 802.0,331.9 802.5,332.0 802.9,332.7 803.0,334.0 803.0,326.0 803.4,332.0 803.8,336.2 804.3,333.0 804.7,335.0 804.8,348.0 804.7,335.7 805.2,345.2 805.6,344.4 806.1,340.9 806.5,339.0 806.7,340.0 806.8,334.0 807.0,336.6 807.4,335.1 807.9,332.4 808.3,333.8 808.7,328.0 808.8,335.0 808.8,333.1 809.2,336.3 809.7,336.4 810.1,333.1 810.6,336.8 810.7,340.0 810.8,334.0 811.0,335.2 811.5,339.0 811.9,343.7 812.4,344.1 812.7,340.0 812.8,347.0 812.8,343.7 813.3,344.0 813.7,347.5 814.2,347.4 814.4,354.0 814.4,346.0 814.6,349.6 815.1,354.2 815.5,356.1 816.0,355.4 816.0,355.0 816.0,363.0 816.4,360.3 816.9,363.5 817.0,374.0 817.0,362.0 817.3,370.2 817.8,364.9 818.2,371.7 818.7,365.3 819.1,368.1 819.6,374.4 820.0,366.0 820.0,379.0 820.0,372.9 820.5,370.3 820.9,376.4 821.4,376.7 821.8,379.3 822.3,379.5 822.4,381.0 822.4,370.0 822.7,371.0 823.2,370.1 823.6,365.7 824.0,361.0 824.0,374.0 824.1,361.6 824.5,363.2 825.0,368.8 825.4,367.0 825.9,366.4 826.3,368.0 826.4,376.0 826.4,365.0 826.8,373.0 827.2,379.0 827.6,386.0 827.6,400.0 827.7,386.5 828.1,400.5 828.6,395.5 829.0,416.0 829.0,400.0 829.0,409.2 829.5,420.1 829.9,414.7 830.4,424.5 830.4,412.0 830.4,433.0 830.8,424.0 831.3,425.7 831.7,417.8 832.2,429.3 832.6,434.0 832.6,420.0 832.6,425.4 833.1,426.3 833.5,420.4 834.0,412.8 834.0,406.0 834.0,422.0 834.4,405.7 834.9,398.2 835.3,404.5 835.6,410.0 835.6,390.0 835.8,396.7 836.2,400.4 836.7,413.7 837.1,416.0 837.6,410.0 837.6,406.0 837.6,418.0 838.0,417.8 838.5,419.1 838.9,417.2 839.2,424.0 839.2,412.0 839.4,422.3 839.8,412.3 840.3,407.6 840.7,402.4 841.0,398.0 841.0,410.0 841.2,405.3 841.6,399.7 842.1,403.0 842.5,401.2 843.0,400.7 843.0,406.0 843.0,394.0 843.4,398.9 843.9,400.0 844.3,396.0 844.8,393.1 845.2,392.7 845.6,385.0 845.6,400.0 845.7,394.4 846.1,397.0 846.6,392.0 847.0,396.0 847.5,395.2 847.6,408.0 847.6,396.0 847.9,397.1 848.4,403.9 848.8,409.2 849.3,401.9 849.6,400.0 849.6,410.0 849.7,407.0 850.2,403.1 850.6,399.9 851.1,398.7 851.5,400.9 852.0,397.9 852.0,402.0 852.0,390.0 852.4,395.8 852.9,397.8 853.3,398.1 853.8,397.7 854.2,390.6 854.7,390.6 855.0,386.0 855.0,398.0 855.1,390.9 855.6,388.4 856.0,390.0 856.5,394.0 856.9,401.4 857.0,404.0 857.0,394.0 857.4,403.5 857.8,406.0 858.3,409.7 858.7,410.6 859.0,404.0 859.0,416.0 859.2,416.1 859.6,418.1 860.1,417.0 860.5,414.1 861.0,419.3 861.0,424.0 861.0,414.0 861.4,418.0 861.9,421.6 862.3,421.6 862.8,425.8 863.0,420.0 863.0,428.0 863.2,422.0 863.7,431.5 864.1,433.3 864.4,449.0 864.4,431.0 864.6,432.8 865.0,442.3 865.5,456.3 865.6,445.0 865.6,475.0 865.9,472.6 866.4,509.3 866.6,550.0 866.6,473.0 866.8,507.3 867.3,486.6 867.6,477.0 867.6,505.0 867.7,497.3 868.2,470.4 868.6,477.0 868.6,433.0 868.6,435.1 869.1,449.6 869.5,463.8 870.0,491.2 870.0,475.0 870.0,503.0 870.4,496.2 870.9,494.4 871.3,485.7 871.6,503.0 871.6,481.0 871.8,481.6 872.2,489.5 872.7,491.2 873.0,483.0 873.0,497.0 873.1,490.2 873.6,487.1 874.0,492.1 874.5,494.1 874.9,501.4 875.0,509.0 875.0,493.0 875.4,504.0 875.8,505.8 876.3,500.1 876.7,487.6 877.0,485.0 877.0,501.0 877.2,486.8 877.6,485.2 878.1,494.8 878.5,492.9 879.0,483.7 879.0,491.0 879.0,479.0 879.4,488.2 879.9,481.9 880.3,481.2 880.8,477.2 881.0,477.0 881.0,487.0 881.2,474.2 881.7,470.4 882.1,473.7 882.6,476.3 883.0,477.0 883.0,449.0 883.0,466.5 883.5,472.6 883.9,474.1 884.4,475.7 884.4,465.0 884.4,479.0 884.8,469.6 885.3,473.2 885.7,479.4 886.2,480.2 886.6,476.3 887.0,485.0 887.0,473.0 887.1,480.3 887.5,485.8 888.0,487.8 888.4,484.1 888.9,491.1 889.0,483.0 889.0,493.0 889.3,492.7 889.8,494.6 890.2,488.9 890.7,493.2 891.0,501.0 891.0,491.0 891.1,493.3 891.6,495.4 892.0,502.5 892.5,500.7 892.9,496.6 893.4,496.1 893.6,495.0 893.6,505.0 893.8,499.7 894.3,489.9 894.7,486.2 895.2,488.3 895.6,493.0 895.6,479.0 895.6,483.5 896.1,489.8 896.5,482.7 897.0,481.7 897.4,482.5 897.9,469.0 898.0,468.0 898.0,489.0 898.3,477.6 898.8,483.3 899.2,485.6 899.7,482.6 900.0,487.0 900.0,475.0 900.1,475.0 900.6,480.6 901.0,478.9 901.5,476.7 901.9,475.0 902.4,481.4 902.8,482.3 903.0,475.0 903.0,485.0 903.3,478.9 903.7,471.8 904.2,470.5 904.6,475.0 905.0,477.0 905.0,463.0 905.1,469.5 905.5,464.1 906.0,464.7 906.4,464.4 906.9,462.3 907.0,461.0 907.0,473.0 907.3,462.5 907.8,459.2 908.2,463.5 908.7,458.7 909.0,471.0 909.0,455.0 909.1,463.1 909.6,456.5 910.0,458.2 910.5,466.0 910.9,461.1 911.0,449.0 911.0,467.0 911.4,462.2 911.8,457.9 912.3,460.4 912.7,467.5 913.0,471.0 913.0,459.0 913.2,469.1 913.6,464.6 914.1,464.0 914.5,462.2 915.0,456.8 915.4,457.9 915.6,451.0 915.6,465.0 915.9,456.8 916.3,463.5 916.8,462.6 917.2,461.7 917.7,455.4 918.0,463.0 918.0,454.0 918.1,459.8 918.6,460.0 919.0,459.7 919.5,456.7 919.9,457.4 920.4,452.6 920.4,451.0 920.4,461.0 920.8,450.5 921.3,445.6 921.7,442.4 922.0,447.0 922.0,434.0 922.2,440.1 922.6,440.8 923.1,443.7 923.5,439.8 924.0,437.0 924.4,439.3 924.9,441.1 925.0,437.0 925.0,447.0 925.3,442.2 925.8,438.2 926.2,433.8 926.7,432.1 927.0,437.0 927.0,427.0 927.1,431.7 927.6,426.8 928.0,427.1 928.5,423.7 928.9,416.9 929.0,410.0 929.0,424.0 929.4,407.8 929.8,409.9 930.3,410.4 930.7,399.2 931.0,408.0 931.0,394.0 931.2,396.6 931.6,401.7 932.1,393.5 932.5,402.0 933.0,393.5 933.0,388.0 933.0,400.0 933.4,389.5 933.9,384.4 934.3,380.7 934.4,392.0 934.4,377.0 934.8,384.3 935.2,380.4 935.7,380.4 936.1,386.0 936.6,388.1 937.0,384.0 937.0,396.0 937.0,386.5 937.5,394.9 937.9,396.9 938.4,394.1 938.8,401.4 939.0,402.0 939.0,392.0 939.3,399.2 939.7,397.8 940.2,398.5 940.6,403.6 941.0,394.0 941.0,404.0 941.1,402.1 941.5,404.6 942.0,399.4 942.4,403.3 942.9,402.2 943.0,409.0 943.0,396.0 943.3,399.2 943.8,392.7 944.2,387.0 944.4,385.0 944.4,396.0 944.7,386.4 945.1,392.6 945.6,391.3 946.0,394.7 946.5,393.2 946.9,396.2 947.0,402.0 947.0,392.0 947.4,401.5 947.8,399.2 948.3,402.8 948.7,400.9 949.0,400.0 949.0,408.0 949.2,403.4 949.6,402.8 950.1,404.2 950.5,406.0 951.0,412.0 951.0,418.0 951.0,408.0 951.4,414.5 951.9,413.1 952.3,416.0 952.8,418.0 953.0,416.0 953.0,428.0 953.2,422.5 953.7,425.6 954.1,430.6 954.6,427.4 955.0,438.0 955.0,426.0 955.0,433.3 955.5,434.5 955.9,432.2 956.4,439.9 956.8,439.1 957.0,430.0 957.0,445.0 957.3,437.9 957.7,440.5 958.2,436.0 958.6,433.9 959.0,440.0 959.0,428.0 959.1,437.4 959.5,438.1 960.0,432.2 960.4,434.7 960.6,423.0 960.6,434.0 960.9,432.4 961.3,426.9 961.8,426.7 962.2,427.7 962.7,431.4 963.0,438.0 963.0,430.0 963.1,432.3 963.6,434.0 964.0,429.3 964.5,427.1 964.9,430.8 965.0,426.0 965.0,436.0 965.4,433.1 965.8,427.9 966.3,434.3 966.7,430.3 967.2,437.8 967.6,444.0 967.6,432.0 967.6,435.4 968.1,430.6 968.5,432.7 969.0,426.4 969.4,427.7 969.6,418.0 969.6,428.0 969.9,418.6 970.3,416.1 970.8,419.7 971.2,416.4 971.6,420.0 971.6,409.0 971.7,412.5 972.1,417.8 972.6,417.3 973.0,421.4 973.5,420.5 973.6,412.0 973.6,422.0 973.9,419.3 974.4,422.2 974.8,424.5 975.3,423.4 975.6,434.0 975.6,422.0 975.7,429.0 976.2,430.2 976.6,428.4 977.0,428.0 977.0,444.0 977.1,428.8 977.5,433.4 978.0,428.7 978.4,434.0 978.4,421.0 978.4,434.0 978.9,432.7 979.3,440.6 979.8,439.0 980.0,434.0 980.0,446.0 980.2,442.5 980.7,446.6 981.1,445.2 981.6,454.8 981.6,457.0 981.6,440.0 982.0,452.2 982.5,450.0 982.9,449.6 983.4,440.2 983.6,436.0 983.6,446.0 983.8,438.8 984.3,441.8 984.7,442.2 985.2,441.3 985.6,440.0 985.6,428.0 985.6,440.0 986.1,426.2 986.5,417.7 987.0,420.0 987.0,412.0 987.0,424.0 987.4,411.2 987.9,410.3 988.3,416.2 988.8,411.6 989.0,420.0 989.0,408.0 989.2,419.0 989.7,410.8 990.1,410.7 990.6,411.7 991.0,406.0 991.0,418.0 991.0,415.0 991.5,415.7 991.9,408.5 992.4,409.1 992.8,403.4 993.0,408.0 993.0,396.0 993.3,396.8 993.7,392.5 994.2,391.6 994.4,389.0 994.4,400.0 994.6,389.7 995.1,399.0 995.5,393.7 996.0,394.4 996.4,403.0 996.9,403.2 997.0,418.0 997.0,398.0 997.3,405.8 997.8,407.2 998.2,395.0 998.7,394.1 999.0,386.0 999.0,398.0 999.1,387.3 999.6,385.5 1000.0,388.0 1000.5,375.5 1000.6,382.0 1000.6,366.0 1000.9,370.3 1001.4,377.0 1001.8,375.7 1002.3,370.1 1002.4,360.0 1002.4,378.0 1002.7,368.7 1003.2,358.9 1003.6,351.7 1004.0,362.0 1004.0,347.0 1004.1,349.5 1004.5,347.4 1005.0,341.3 1005.2,333.0 1005.3,347.0 1005.4,342.0 1005.9,339.0 1006.3,334.4 1006.7,347.0 1006.8,327.0 1006.8,332.8 1007.2,335.9 1007.7,332.4 1008.0,320.0 1008.0,333.0 1008.1,324.6 1008.6,318.4 1009.0,314.7 1009.2,320.0 1009.3,300.0 1009.5,312.3 1009.9,316.7 1010.4,321.6 1010.8,331.5 1011.0,311.0 1011.0,333.0 1011.3,317.5 1011.7,325.3 1012.2,318.1 1012.6,328.5 1012.7,337.0 1012.8,320.0 1013.1,326.1 1013.5,323.1 1014.0,317.0 1014.0,313.0 1014.0,324.0 1014.4,317.4 1014.9,311.5 1015.2,313.0 1015.3,296.0 1015.3,297.4 1015.8,302.2 1016.2,297.2 1016.4,283.0 1016.4,297.0 1016.7,293.3 1017.1,291.8 1017.6,289.5 1018.0,307.0 1018.0,292.0 1018.0,302.9 1018.5,312.8 1018.9,317.9 1019.4,326.4 1019.6,304.0 1019.6,330.0 1019.8,314.2 1020.3,319.9 1020.7,313.6 1021.2,317.1 1021.2,320.0 1021.3,307.0 1021.6,316.9 1022.1,320.0 1022.5,322.9 1023.0,324.2 1023.0,315.0 1023.0,333.0 1023.4,325.1 1023.9,322.2 1024.3,324.8 1024.7,343.0 1024.8,323.0 1024.8,338.1 1025.2,330.5 1025.7,330.2 1026.1,327.8 1026.4,317.0 1026.5,333.0 1026.6,321.8 1027.0,326.2 1027.5,313.9 1027.9,306.6 1028.0,315.0 1028.0,299.0 1028.4,306.5 1028.8,300.0 1029.3,300.0 1029.5,297.0 1029.6,312.0 1029.7,303.3 1030.2,301.7 1030.6,299.6 1031.0,296.0 1031.0,285.0 1031.1,295.6 1031.5,285.5 1032.0,285.0 1032.0,278.0 1032.0,288.0 1032.4,286.0 1032.9,277.9 1033.3,275.5 1033.8,272.4 1034.0,278.0 1034.0,266.0 1034.2,269.1 1034.7,267.2 1035.1,252.9 1035.2,243.0 1035.3,267.0 1035.6,242.7 1036.0,246.4 1036.5,248.9 1036.9,243.4 1037.2,247.0 1037.3,230.0 1037.4,241.6 1037.8,239.5 1038.3,227.8 1038.2,222.0 1038.3,232.0 1038.7,227.3 1039.2,218.4 1039.2,225.0 1039.3,194.0 1039.6,208.2 1040.1,211.2 1040.5,212.2 1040.7,208.0 1040.8,226.0 1041.0,207.3 1041.4,208.5 1041.9,204.1 1042.3,206.3 1042.4,228.0 1042.5,201.0 1042.8,226.6 1043.0,224.0 1043.0,236.0 1043.2,230.6 1043.7,232.7 1044.1,241.6 1044.6,242.6 1044.7,251.0 1044.8,238.0 1045.0,248.3 1045.5,244.0 1045.9,254.3 1046.0,248.0 1046.0,264.0 1046.4,259.3 1046.8,264.2 1047.3,272.9 1047.2,282.0 1047.3,268.0 1047.7,274.1 1048.2,280.0 1048.2,274.0 1048.3,290.0 1048.6,272.3 1049.1,271.3 1049.5,269.4 1049.5,276.0 1049.6,259.0 1050.0,258.1 1050.4,254.0 1050.7,242.0 1050.8,259.0 1050.9,253.3 1051.3,251.1 1051.8,244.1 1052.0,250.0 1052.0,234.0 1052.2,239.9 1052.7,244.4 1053.0,247.0 1053.0,259.0 1053.1,248.5 1053.6,260.2 1054.0,263.2 1054.4,271.0 1054.5,259.0 1054.5,265.8 1054.9,272.3 1055.4,261.8 1055.7,262.0 1055.8,282.0 1055.8,273.5 1056.3,273.0 1056.7,280.4 1057.2,272.4 1057.2,281.0 1057.3,262.0 1057.6,270.5 1058.1,266.9 1058.5,266.8 1058.7,259.0 1058.8,271.0 1059.0,264.8 1059.4,263.0 1059.9,258.9 1060.0,258.0 1060.0,247.0 1060.3,251.9 1060.8,250.7 1061.2,243.8 1061.2,236.0 1061.3,248.0 1061.7,241.4 1062.1,232.6 1062.6,232.1 1062.7,242.0 1062.8,230.0 1063.0,234.9 1063.5,241.4 1063.9,245.5 1064.0,242.0 1064.0,254.0 1064.4,261.3 1064.8,259.8 1065.0,279.0 1065.0,254.0 1065.3,273.1 1065.7,270.3 1066.2,258.1 1066.4,255.0 1066.5,271.0 1066.6,265.3 1067.1,260.3 1067.5,268.0 1067.5,252.0 1067.5,266.2 1068.0,267.6 1068.4,272.0 1068.9,269.2 1069.0,264.0 1069.0,279.0 1069.3,269.6 1069.8,260.5 1070.2,259.4 1070.7,259.9 1070.7,270.0 1070.8,256.0 1071.1,261.4 1071.6,267.4 1072.0,250.0 1072.0,266.0 1072.0,261.4 1072.5,258.1 1072.9,251.4 1073.2,264.0 1073.3,252.0 1073.4,254.4 1073.8,259.8 1074.3,259.7 1074.7,253.6 1075.0,248.0 1075.0,263.0 1075.2,252.9 1075.6,255.3 1076.1,248.6 1076.2,254.0 1076.3,242.0 1076.5,245.1 1077.0,242.0 1077.4,239.0 1077.9,242.3 1078.0,234.0 1078.0,246.0 1078.3,245.3 1078.8,242.8 1079.2,238.6 1079.2,252.0 1079.3,239.0 1079.7,242.3 1080.1,240.3 1080.6,241.1 1080.7,236.0 1080.8,248.0 1081.0,239.8 1081.5,246.3 1081.9,244.4 1082.0,252.0 1082.0,243.0 1082.4,249.3 1082.8,249.5 1083.3,250.3 1083.7,246.0 1083.8,256.0 1083.7,252.0 1084.2,253.2 1084.6,244.9 1085.0,248.0 1085.0,239.0 1085.1,247.0 1085.5,238.1 1086.0,242.0 1086.4,226.0 1086.5,242.0 1086.4,234.5 1086.9,231.8 1087.3,242.5 1087.7,250.0 1087.8,238.0 1087.8,243.1 1088.2,239.4 1088.7,240.4 1089.0,232.0 1089.0,244.0 1089.1,234.4 1089.6,224.0 1090.0,236.0 1090.0,203.0 1090.0,231.6 1090.5,229.3 1090.9,208.3 1091.2,202.0 1091.3,220.0 1091.4,202.6 1091.8,206.8 1092.3,205.7 1092.7,193.6 1093.0,208.0 1093.0,188.0 1093.2,189.6 1093.6,203.8 1094.0,196.0 1094.0,210.0 1094.1,205.0 1094.5,201.6 1095.0,209.2 1095.2,216.0 1095.3,201.0 1095.4,200.8 1095.9,200.2 1096.3,199.6 1096.7,196.0 1096.8,205.0 1096.8,201.6 1097.2,201.8 1097.7,196.4 1098.0,202.0 1098.0,192.0 1098.1,199.5 1098.6,193.4 1099.0,177.0 1099.0,196.0 1099.0,178.8 1099.5,182.2 1099.9,170.7 1100.0,180.0 1100.0,165.0 1100.4,162.7 1100.7,156.0 1100.8,169.0 1100.8,162.6 1101.3,158.1 1101.3,152.5" fill="none" stroke="#f4575b" stroke-width="1.6" stroke-linejoin="round"/>
<path d="M0.0,150.1h2M2.0,152.1h2M1.3,157.2h2M3.3,148.9h2M2.6,148.3h2M4.6,149.7h2M3.9,141.8h2M5.9,147.7h2M5.2,152.0h2M7.2,154.9h2M6.5,146.5h2M8.5,150.3h2M7.8,153.8h2M9.8,166.8h2M9.1,171.4h2M11.1,159.7h2M10.4,175.3h2M12.4,175.0h2M11.7,168.1h2M13.7,167.4h2M13.0,156.1h2M15.0,153.5h2M14.3,159.2h2M16.3,150.7h2M15.6,149.5h2M17.6,150.5h2M16.9,145.2h2M18.9,153.1h2M18.2,152.2h2M20.2,159.4h2M19.5,152.6h2M21.5,154.8h2M20.8,150.2h2M22.8,153.2h2M22.1,145.7h2M24.1,142.5h2M23.4,149.0h2M25.4,148.9h2M24.7,141.5h2M26.7,139.1h2M26.0,127.7h2M28.0,126.1h2M27.3,103.1h2M29.3,99.1h2M28.6,116.0h2M30.6,109.4h2M29.9,119.0h2M31.9,110.7h2M31.2,123.1h2M33.2,121.1h2M32.5,111.3h2M34.5,115.1h2M33.8,131.8h2M35.8,123.8h2M35.1,137.7h2M37.1,127.2h2M36.4,126.1h2M38.4,136.1h2M37.7,143.1h2M39.7,134.0h2M39.0,134.6h2M41.0,139.0h2M40.3,153.6h2M42.3,149.9h2M41.6,143.5h2M43.6,145.8h2M42.9,150.6h2M44.9,149.8h2M44.2,168.1h2M46.2,157.0h2M45.5,156.1h2M47.5,154.1h2M46.8,143.2h2M48.8,153.0h2M48.1,137.8h2M50.1,147.0h2M49.4,142.9h2M51.4,148.4h2M50.7,150.9h2M52.7,151.9h2M52.0,173.5h2M54.0,170.5h2M53.3,165.8h2M55.3,176.3h2M54.6,168.5h2M56.6,171.8h2M55.9,190.0h2M57.9,186.2h2M57.2,189.0h2M59.2,205.0h2M58.5,187.7h2M60.5,188.5h2M59.8,187.5h2M61.8,179.5h2M61.1,176.0h2M63.1,171.9h2M62.4,170.6h2M64.4,179.5h2M63.7,182.9h2M65.7,189.3h2M65.0,194.7h2M67.0,196.2h2M66.3,209.5h2M68.3,200.9h2M67.6,206.8h2M69.6,212.0h2M68.9,199.4h2M70.9,198.9h2M70.2,205.0h2M72.2,203.3h2M71.5,185.2h2M73.5,184.1h2M72.8,185.5h2M74.8,189.2h2M74.1,172.4h2M76.1,186.0h2M75.4,189.6h2M77.4,184.6h2M76.7,189.3h2M78.7,183.6h2M78.0,193.1h2M80.0,209.8h2M79.3,201.6h2M81.3,210.0h2M80.6,197.4h2M82.6,207.6h2M81.9,199.1h2M83.9,193.6h2M83.2,184.0h2M85.2,193.8h2M84.5,174.2h2M86.5,177.1h2M85.8,178.5h2M87.8,183.7h2M87.1,176.9h2M89.1,170.8h2M88.4,179.7h2M90.4,166.9h2M89.7,161.6h2M91.7,166.1h2M91.0,168.0h2M93.0,161.1h2M92.3,161.9h2M94.3,165.3h2M93.6,167.7h2M95.6,159.8h2M94.9,166.7h2M96.9,176.2h2M96.2,182.4h2M98.2,176.6h2M97.5,181.9h2M99.5,180.0h2M98.8,176.8h2M100.8,174.9h2M100.1,171.5h2M102.1,187.6h2M101.4,179.3h2M103.4,184.0h2M102.7,167.3h2M104.7,178.4h2M104.0,176.7h2M106.0,181.1h2M105.3,180.7h2M107.3,192.9h2M106.6,183.2h2M108.6,191.7h2M107.9,212.2h2M109.9,216.5h2M109.2,230.7h2M111.2,229.5h2M110.5,234.1h2M112.5,238.4h2M111.8,219.3h2M113.8,230.4h2M113.1,236.3h2M115.1,235.5h2M114.4,222.7h2M116.4,233.0h2M115.7,236.9h2M117.7,227.4h2M117.0,229.7h2M119.0,220.5h2M118.3,219.9h2M120.3,220.7h2M119.6,199.0h2M121.6,213.0h2M120.9,219.9h2M122.9,218.3h2M122.2,229.8h2M124.2,227.1h2M123.5,277.9h2M125.5,276.6h2M124.8,311.3h2M126.8,314.9h2M126.1,318.3h2M128.1,327.3h2M127.4,345.8h2M129.4,355.8h2M128.7,366.4h2M130.7,363.0h2M130.0,358.8h2M132.0,353.9h2M131.3,339.9h2M133.3,350.3h2M132.6,324.6h2M134.6,318.1h2M133.9,314.9h2M135.9,325.0h2M135.2,284.4h2M137.2,283.6h2M136.5,285.8h2M138.5,280.0h2M137.8,272.7h2M139.8,285.0h2M139.1,268.4h2M141.1,277.9h2M140.4,264.0h2M142.4,270.5h2M141.7,281.5h2M143.7,284.9h2M143.0,286.0h2M145.0,266.7h2M144.3,273.2h2M146.3,263.4h2M145.6,258.7h2M147.6,268.4h2M146.9,271.4h2M148.9,271.7h2M148.2,262.6h2M150.2,265.8h2M149.5,249.3h2M151.5,248.2h2M150.8,240.3h2M152.8,238.9h2M152.1,222.5h2M154.1,224.9h2M153.4,219.6h2M155.4,217.1h2M154.7,209.3h2M156.7,219.7h2M156.0,207.7h2M158.0,198.1h2M157.3,173.1h2M159.3,172.4h2M158.6,171.7h2M160.6,156.7h2M159.9,177.6h2M161.9,175.1h2M161.2,184.9h2M163.2,193.6h2M162.5,191.7h2M164.5,193.8h2M163.8,204.8h2M165.8,197.0h2M165.1,204.7h2M167.1,194.0h2M166.4,178.8h2M168.4,177.1h2M167.7,182.7h2M169.7,179.4h2M169.0,185.3h2M171.0,185.8h2M170.3,197.6h2M172.3,200.4h2M171.6,201.7h2M173.6,193.0h2M172.9,201.0h2M174.9,195.6h2M174.2,195.7h2M176.2,204.0h2M175.5,211.6h2M177.5,202.0h2M176.8,209.4h2M178.8,210.7h2M178.1,223.3h2M180.1,220.1h2M179.4,231.1h2M181.4,233.6h2M180.7,207.6h2M182.7,214.8h2M182.0,209.3h2M184.0,194.6h2M183.3,206.7h2M185.3,202.9h2M184.6,191.8h2M186.6,197.6h2M185.9,200.3h2M187.9,205.4h2M187.2,196.6h2M189.2,200.0h2M188.5,206.5h2M190.5,205.0h2M189.8,205.2h2M191.8,196.5h2M191.1,195.2h2M193.1,187.2h2M192.4,190.3h2M194.4,192.1h2M193.7,182.7h2M195.7,184.1h2M195.0,168.8h2M197.0,181.2h2M196.3,182.6h2M198.3,182.6h2M197.6,173.9h2M199.6,178.3h2M198.9,170.7h2M200.9,179.8h2M200.2,186.0h2M202.2,179.3h2M201.5,173.6h2M203.5,178.9h2M202.8,176.1h2M204.8,179.0h2M204.1,169.9h2M206.1,163.4h2M205.4,174.9h2M207.4,163.8h2M206.7,180.0h2M208.7,170.6h2M208.0,170.7h2M210.0,177.5h2M209.3,167.1h2M211.3,167.2h2M210.6,168.1h2M212.6,171.0h2M211.9,164.5h2M213.9,162.7h2M213.2,164.0h2M215.2,159.3h2M214.5,168.6h2M216.5,160.7h2M215.8,168.2h2M217.8,171.3h2M217.1,175.2h2M219.1,180.0h2M218.4,203.7h2M220.4,199.7h2M219.7,213.2h2M221.7,205.7h2M221.0,211.7h2M223.0,213.0h2M222.3,225.4h2M224.3,226.3h2M223.6,209.1h2M225.6,220.9h2M224.9,225.8h2M226.9,218.8h2M226.2,223.4h2M228.2,217.9h2M227.5,231.7h2M229.5,231.1h2M228.8,238.8h2M230.8,226.3h2M230.1,244.8h2M232.1,235.4h2M231.4,231.6h2M233.4,239.5h2M232.7,233.5h2M234.7,232.1h2M234.0,234.4h2M236.0,223.2h2M235.3,239.4h2M237.3,237.5h2M236.6,257.1h2M238.6,256.6h2M237.9,262.0h2M239.9,265.5h2M239.2,261.7h2M241.2,267.1h2M240.5,262.6h2M242.5,263.7h2M241.8,249.0h2M243.8,246.5h2M243.1,248.0h2M245.1,254.3h2M244.4,263.8h2M246.4,253.0h2M245.7,260.0h2M247.7,249.4h2M247.0,243.1h2M249.0,243.6h2M248.3,244.5h2M250.3,238.7h2M249.6,232.8h2M251.6,236.8h2M250.9,222.0h2M252.9,230.4h2M252.2,206.3h2M254.2,213.0h2M253.5,202.6h2M255.5,201.8h2M254.8,214.9h2M256.8,213.3h2M256.1,205.1h2M258.1,205.8h2M257.4,194.0h2M259.4,186.4h2M258.7,179.4h2M260.7,188.7h2M260.0,190.6h2M262.0,188.9h2M261.3,198.9h2M263.3,195.6h2M262.6,192.2h2M264.6,184.0h2M263.9,186.2h2M265.9,187.2h2M265.2,185.7h2M267.2,177.2h2M266.5,174.7h2M268.5,182.5h2M267.8,164.7h2M269.8,174.3h2M269.1,170.8h2M271.1,161.5h2M270.4,169.2h2M272.4,175.3h2M271.7,174.9h2M273.7,172.2h2M273.0,185.6h2M275.0,177.4h2M274.3,195.1h2M276.3,182.8h2M275.6,188.1h2M277.6,192.4h2M276.9,179.3h2M278.9,181.6h2M278.2,184.3h2M280.2,187.1h2M279.5,184.7h2M281.5,172.3h2M280.8,186.4h2M282.8,189.4h2M282.1,191.3h2M284.1,192.8h2M283.4,195.2h2M285.4,193.9h2M284.7,198.7h2M286.7,197.9h2M286.0,207.2h2M288.0,206.7h2M287.3,211.9h2M289.3,206.5h2M288.6,208.6h2M290.6,208.9h2M289.9,216.7h2M291.9,218.9h2M291.2,218.6h2M293.2,207.1h2M292.5,203.0h2M294.5,217.6h2M293.8,202.7h2M295.8,210.0h2M295.1,203.4h2M297.1,206.8h2M296.4,209.8h2M298.4,208.4h2M297.7,208.8h2M299.7,201.3h2M299.0,221.6h2M301.0,222.8h2M300.3,248.0h2M302.3,250.1h2M301.6,273.2h2M303.6,264.5h2M302.9,265.7h2M304.9,264.8h2M304.2,280.6h2M306.2,265.3h2M305.5,298.2h2M307.5,295.7h2M306.8,303.7h2M308.8,306.4h2M308.1,317.8h2M310.1,313.3h2M309.4,332.0h2M311.4,329.6h2M310.7,355.3h2M312.7,350.0h2M312.0,323.6h2M314.0,340.2h2M313.3,318.9h2M315.3,319.7h2M314.6,312.5h2M316.6,300.4h2M315.9,319.5h2M317.9,319.1h2M317.2,324.3h2M319.2,325.8h2M318.5,328.4h2M320.5,320.1h2M319.8,334.8h2M321.8,319.5h2M321.1,326.9h2M323.1,329.7h2M322.4,316.8h2M324.4,324.0h2M323.7,336.8h2M325.7,336.5h2M325.0,330.4h2M327.0,348.0h2M326.3,337.1h2M328.3,330.5h2M327.6,334.1h2M329.6,332.3h2M328.9,329.6h2M330.9,326.4h2M330.2,338.3h2M332.2,329.9h2M331.5,327.7h2M333.5,329.0h2M332.8,329.3h2M334.8,311.7h2M334.1,320.4h2M336.1,322.5h2M335.4,313.2h2M337.4,315.3h2M336.7,311.1h2M338.7,313.0h2M338.0,317.5h2M340.0,314.2h2M339.3,309.1h2M341.3,315.9h2M340.6,297.6h2M342.6,296.9h2M341.9,303.0h2M343.9,296.2h2M343.2,306.9h2M345.2,300.1h2M344.5,308.0h2M346.5,294.4h2M345.8,314.2h2M347.8,315.7h2M347.1,312.4h2M349.1,321.1h2M348.4,314.9h2M350.4,318.7h2M349.7,321.9h2M351.7,325.5h2M351.0,333.1h2M353.0,327.6h2M352.3,347.6h2M354.3,342.3h2M353.6,353.8h2M355.6,355.2h2M354.9,356.3h2M356.9,354.2h2M356.2,357.7h2M358.2,355.9h2M357.5,351.9h2M359.5,358.6h2M358.8,354.2h2M360.8,350.7h2M360.1,358.8h2M362.1,356.6h2M361.4,363.7h2M363.4,369.7h2M362.7,369.8h2M364.7,376.3h2M364.0,379.0h2M366.0,367.8h2M365.3,372.5h2M367.3,372.0h2M366.6,352.8h2M368.6,362.0h2M367.9,344.3h2M369.9,345.2h2M369.2,354.2h2M371.2,340.0h2M370.5,351.9h2M372.5,359.5h2M371.8,351.3h2M373.8,346.3h2M373.1,346.4h2M375.1,342.7h2M374.4,336.8h2M376.4,326.7h2M375.7,342.5h2M377.7,339.9h2M377.0,335.7h2M379.0,333.4h2M378.3,338.2h2M380.3,331.7h2M379.6,336.4h2M381.6,340.0h2M380.9,338.4h2M382.9,335.5h2M382.2,344.3h2M384.2,342.2h2M383.5,352.9h2M385.5,350.6h2M384.8,356.4h2M386.8,356.0h2M386.1,352.7h2M388.1,347.4h2M387.4,342.8h2M389.4,352.2h2M388.7,345.9h2M390.7,344.0h2M390.0,336.5h2M392.0,335.5h2M391.3,337.8h2M393.3,336.4h2M392.6,328.7h2M394.6,329.2h2M393.9,323.9h2M395.9,316.3h2M395.2,319.8h2M397.2,328.1h2M396.5,326.1h2M398.5,325.8h2M397.8,311.6h2M399.8,311.8h2M399.1,309.0h2M401.1,310.7h2M400.4,313.1h2M402.4,307.6h2M401.7,312.8h2M403.7,308.0h2M403.0,312.2h2M405.0,318.9h2M404.3,316.1h2M406.3,317.1h2M405.6,307.5h2M407.6,308.7h2M406.9,310.5h2M408.9,311.8h2M408.2,320.3h2M410.2,321.1h2M409.5,321.4h2M411.5,321.9h2M410.8,337.7h2M412.8,335.2h2M412.1,341.6h2M414.1,335.8h2M413.4,339.6h2M415.4,337.8h2M414.7,344.5h2M416.7,339.3h2M416.0,331.4h2M418.0,336.8h2M417.3,316.3h2M419.3,320.0h2M418.6,315.8h2M420.6,318.3h2M419.9,301.0h2M421.9,300.3h2M421.2,292.6h2M423.2,301.9h2M422.5,285.5h2M424.5,285.6h2M423.8,281.6h2M425.8,280.4h2M425.1,277.4h2M427.1,271.0h2M426.4,274.9h2M428.4,264.2h2M427.7,268.4h2M429.7,273.0h2M429.0,264.3h2M431.0,266.5h2M430.3,267.4h2M432.3,267.0h2M431.6,259.0h2M433.6,257.1h2M432.9,254.8h2M434.9,260.3h2M434.2,249.0h2M436.2,245.1h2M435.5,253.4h2M437.5,251.3h2M436.8,262.2h2M438.8,262.5h2M438.1,254.2h2M440.1,248.6h2M439.4,256.4h2M441.4,251.1h2M440.7,256.6h2M442.7,257.4h2M442.0,265.3h2M444.0,264.9h2M443.3,256.9h2M445.3,258.0h2M444.6,260.0h2M446.6,259.9h2M445.9,266.0h2M447.9,265.9h2M447.2,264.2h2M449.2,267.4h2M448.5,259.9h2M450.5,257.8h2M449.8,255.9h2M451.8,253.5h2M451.1,246.8h2M453.1,252.2h2M452.4,251.3h2M454.4,245.4h2M453.7,241.2h2M455.7,246.2h2M455.0,246.2h2M457.0,246.5h2M456.3,255.9h2M458.3,251.2h2M457.6,250.0h2M459.6,240.2h2M458.9,242.5h2M460.9,244.8h2M460.2,245.0h2M462.2,244.9h2M461.5,257.6h2M463.5,259.2h2M462.8,256.7h2M464.8,263.9h2M464.1,265.9h2M466.1,273.8h2M465.4,270.3h2M467.4,265.7h2M466.7,261.0h2M468.7,265.9h2M468.0,267.0h2M470.0,270.1h2M469.3,268.3h2M471.3,267.4h2M470.6,268.4h2M472.6,265.3h2M471.9,267.1h2M473.9,267.5h2M473.2,273.1h2M475.2,273.0h2M474.5,278.7h2M476.5,273.6h2M475.8,281.1h2M477.8,279.4h2M477.1,284.0h2M479.1,283.6h2M478.4,286.8h2M480.4,287.2h2M479.7,291.6h2M481.7,288.5h2M481.0,290.4h2M483.0,292.4h2M482.3,296.0h2M484.3,292.1h2M483.6,294.6h2M485.6,291.8h2M484.9,299.6h2M486.9,302.3h2M486.2,292.1h2M488.2,289.8h2M487.5,285.3h2M489.5,287.7h2M488.8,286.8h2M490.8,294.2h2M490.1,284.5h2M492.1,287.3h2M491.4,283.8h2M493.4,290.1h2M492.7,294.9h2M494.7,289.8h2M494.0,292.8h2M496.0,296.0h2M495.3,300.5h2M497.3,303.8h2M496.6,297.4h2M498.6,298.2h2M497.9,301.3h2M499.9,301.7h2M499.2,304.5h2M501.2,310.3h2M500.5,313.4h2M502.5,308.6h2M501.8,310.7h2M503.8,312.0h2M503.1,304.7h2M505.1,312.7h2M504.4,300.8h2M506.4,303.9h2M505.7,308.2h2M507.7,303.9h2M507.0,308.1h2M509.0,315.6h2M508.3,322.6h2M510.3,316.5h2M509.6,331.3h2M511.6,338.6h2M510.9,341.4h2M512.9,334.0h2M512.2,323.2h2M514.2,338.4h2M513.5,327.0h2M515.5,322.8h2M514.8,324.3h2M516.8,324.2h2M516.1,322.1h2M518.1,329.3h2M517.4,330.4h2M519.4,325.8h2M518.7,327.2h2M520.7,332.7h2M520.0,340.6h2M522.0,347.0h2M521.3,354.6h2M523.3,352.8h2M522.6,347.0h2M524.6,347.0h2M523.9,357.6h2M525.9,356.9h2M525.2,375.8h2M527.2,371.5h2M526.5,381.6h2M528.5,386.4h2M527.8,383.1h2M529.8,387.2h2M529.1,386.7h2M531.1,397.4h2M530.4,378.0h2M532.4,392.1h2M531.7,378.9h2M533.7,378.6h2M533.0,358.9h2M535.0,361.9h2M534.3,364.0h2M536.3,353.0h2M535.6,356.2h2M537.6,356.0h2M536.9,368.3h2M538.9,361.3h2M538.2,375.1h2M540.2,369.4h2M539.5,377.9h2M541.5,373.5h2M540.8,380.9h2M542.8,370.5h2M542.1,376.5h2M544.1,369.7h2M543.4,368.9h2M545.4,368.7h2M544.7,355.9h2M546.7,363.8h2M546.0,345.0h2M548.0,345.0h2M547.3,328.6h2M549.3,332.1h2M548.6,328.1h2M550.6,333.0h2M549.9,331.0h2M551.9,336.7h2M551.2,325.6h2M553.2,330.1h2M552.5,322.0h2M554.5,329.3h2M553.8,322.7h2M555.8,320.1h2M555.1,308.1h2M557.1,313.9h2M556.4,317.0h2M558.4,310.1h2M557.7,316.3h2M559.7,314.3h2M559.0,306.3h2M561.0,331.8h2M560.3,332.5h2M562.3,322.5h2M561.6,336.2h2M563.6,332.3h2M562.9,339.3h2M564.9,341.2h2M564.2,343.4h2M566.2,344.0h2M565.5,349.2h2M567.5,354.1h2M566.8,346.1h2M568.8,345.0h2M568.1,341.9h2M570.1,336.5h2M569.4,339.7h2M571.4,334.4h2M570.7,333.9h2M572.7,327.5h2M572.0,340.4h2M574.0,327.6h2M573.3,335.0h2M575.3,334.2h2M574.6,344.5h2M576.6,345.0h2M575.9,336.2h2M577.9,338.9h2M577.2,344.2h2M579.2,341.6h2M578.5,333.8h2M580.5,335.2h2M579.8,326.5h2M581.8,326.1h2M581.1,322.6h2M583.1,318.3h2M582.4,333.2h2M584.4,327.2h2M583.7,330.5h2M585.7,332.6h2M585.0,336.9h2M587.0,338.1h2M586.3,331.2h2M588.3,330.3h2M587.6,332.3h2M589.6,327.4h2M588.9,330.8h2M590.9,334.6h2M590.2,340.7h2M592.2,338.3h2M591.5,341.5h2M593.5,340.9h2M592.8,339.2h2M594.8,343.0h2M594.1,348.7h2M596.1,352.4h2M595.4,352.6h2M597.4,356.6h2M596.7,368.1h2M598.7,373.9h2M598.0,381.6h2M600.0,376.3h2M599.3,361.8h2M601.3,371.7h2M600.6,368.0h2M602.6,363.7h2M601.9,359.3h2M603.9,361.2h2M603.2,355.3h2M605.2,362.6h2M604.5,367.8h2M606.5,362.4h2M605.8,366.8h2M607.8,368.1h2M607.1,364.7h2M609.1,372.2h2M608.4,372.3h2M610.4,368.0h2M609.7,360.5h2M611.7,362.3h2M611.0,360.5h2M613.0,362.1h2M612.3,361.3h2M614.3,368.2h2M613.6,365.6h2M615.6,366.6h2M614.9,361.7h2M616.9,370.6h2M616.2,361.4h2M618.2,369.8h2M617.5,371.3h2M619.5,371.5h2M618.8,376.5h2M620.8,373.3h2M620.1,385.5h2M622.1,386.5h2M621.4,390.6h2M623.4,385.8h2M622.7,394.2h2M624.7,404.4h2M624.0,406.0h2M626.0,413.7h2M625.3,401.6h2M627.3,406.2h2M626.6,405.1h2M628.6,396.2h2M627.9,400.2h2M629.9,394.0h2M629.2,394.2h2M631.2,396.0h2M630.5,405.9h2M632.5,405.3h2M631.8,402.3h2M633.8,398.6h2M633.1,402.6h2M635.1,403.3h2M634.4,397.2h2M636.4,399.5h2M635.7,394.7h2M637.7,383.5h2M637.0,382.8h2M639.0,387.1h2M638.3,385.5h2M640.3,389.4h2M639.6,387.6h2M641.6,381.6h2M640.9,379.8h2M642.9,376.2h2M642.2,376.2h2M644.2,373.5h2M643.5,373.4h2M645.5,367.4h2M644.8,371.1h2M646.8,365.8h2M646.1,369.7h2M648.1,359.9h2M647.4,337.8h2M649.4,336.5h2M648.7,328.6h2M650.7,329.6h2M650.0,326.6h2M652.0,326.5h2M651.3,318.7h2M653.3,325.6h2M652.6,320.1h2M654.6,320.3h2M653.9,316.5h2M655.9,316.8h2M655.2,320.8h2M657.2,324.2h2M656.5,327.4h2M658.5,327.4h2M657.8,330.4h2M659.8,336.2h2M659.1,326.3h2M661.1,322.8h2M660.4,329.3h2M662.4,331.7h2M661.7,326.9h2M663.7,325.3h2M663.0,328.9h2M665.0,323.8h2M664.3,328.6h2M666.3,322.8h2M665.6,323.5h2M667.6,327.3h2M666.9,323.3h2M668.9,322.0h2M668.2,310.8h2M670.2,319.1h2M669.5,321.6h2M671.5,318.0h2M670.8,324.8h2M672.8,325.9h2M672.1,327.8h2M674.1,326.0h2M673.4,338.7h2M675.4,339.3h2M674.7,340.9h2M676.7,343.2h2M676.0,335.6h2M678.0,339.9h2M677.3,329.7h2M679.3,335.1h2M678.6,331.4h2M680.6,335.3h2M679.9,329.6h2M681.9,337.3h2M681.2,335.6h2M683.2,339.8h2M682.5,346.5h2M684.5,337.0h2M683.8,342.0h2M685.8,342.6h2M685.1,346.4h2M687.1,343.6h2M686.4,356.8h2M688.4,355.9h2M687.7,349.5h2M689.7,349.0h2M689.0,345.8h2M691.0,339.3h2M690.3,336.1h2M692.3,346.8h2M691.6,339.1h2M693.6,341.6h2M692.9,348.4h2M694.9,348.9h2M694.2,345.2h2M696.2,342.4h2M695.5,346.2h2M697.5,352.3h2M696.8,354.7h2M698.8,348.5h2M698.1,356.9h2M700.1,353.0h2M699.4,355.9h2M701.4,352.8h2M700.7,362.2h2M702.7,363.6h2M702.0,351.6h2M704.0,355.8h2M703.3,348.6h2M705.3,354.2h2M704.6,343.1h2M706.6,343.6h2M705.9,345.5h2M707.9,341.4h2M707.2,346.1h2M709.2,345.8h2M708.5,342.6h2M710.5,334.7h2M709.8,342.6h2M711.8,346.0h2M711.1,343.4h2M713.1,339.1h2M712.4,344.8h2M714.4,345.6h2M713.7,351.4h2M715.7,346.2h2M715.0,347.8h2M717.0,348.4h2M716.3,354.1h2M718.3,355.5h2M717.6,352.1h2M719.6,355.5h2M718.9,356.7h2M720.9,352.9h2M720.2,344.8h2M722.2,345.8h2M721.5,351.0h2M723.5,347.7h2M722.8,339.8h2M724.8,344.2h2M724.1,334.8h2M726.1,344.9h2M725.4,335.8h2M727.4,336.7h2M726.7,330.1h2M728.7,324.2h2M728.0,321.6h2M730.0,316.6h2M729.3,313.0h2M731.3,320.1h2M730.6,309.2h2M732.6,311.2h2M731.9,317.9h2M733.9,312.8h2M733.2,315.1h2M735.2,317.8h2M734.5,316.2h2M736.5,323.3h2M735.8,326.3h2M737.8,316.8h2M737.1,323.8h2M739.1,326.5h2M738.4,325.8h2M740.4,330.8h2M739.7,322.5h2M741.7,319.3h2M741.0,317.4h2M743.0,318.3h2M742.3,312.0h2M744.3,315.2h2M743.6,317.3h2M745.6,315.2h2M744.9,313.8h2M746.9,317.1h2M746.2,313.7h2M748.2,311.5h2M747.5,326.4h2M749.5,315.1h2M748.8,329.3h2M750.8,321.0h2M750.1,323.7h2M752.1,320.4h2M751.4,325.2h2M753.4,327.9h2M752.7,330.9h2M754.7,330.9h2M754.0,331.2h2M756.0,332.4h2M755.3,331.8h2M757.3,333.6h2M756.6,330.3h2M758.6,327.6h2M757.9,324.3h2M759.9,325.2h2M759.2,321.8h2M761.2,324.2h2M760.5,319.1h2M762.5,318.9h2M761.8,322.4h2M763.8,325.8h2M763.1,327.9h2M765.1,328.0h2M764.4,326.7h2M766.4,330.8h2M765.7,320.6h2M767.7,326.5h2M767.0,319.5h2M769.0,319.3h2M768.3,316.6h2M770.3,312.6h2M769.6,307.5h2M771.6,308.8h2M770.9,293.0h2M772.9,296.4h2M772.2,294.6h2M774.2,293.3h2M773.5,292.7h2M775.5,295.8h2M774.8,292.7h2M776.8,298.6h2M776.1,289.8h2M778.1,290.5h2M777.4,287.1h2M779.4,292.1h2M778.7,296.8h2M780.7,296.5h2M780.0,294.1h2M782.0,296.7h2M781.3,302.1h2M783.3,300.9h2M782.6,315.5h2M784.6,308.0h2M783.9,320.0h2M785.9,322.5h2M785.2,331.2h2M787.2,323.0h2M786.5,329.5h2M788.5,332.1h2M787.8,327.5h2M789.8,329.8h2M789.1,328.5h2M791.1,322.1h2M790.4,322.9h2M792.4,322.2h2M791.7,323.7h2M793.7,321.3h2M793.0,323.6h2M795.0,329.5h2M794.3,329.7h2M796.3,329.5h2M795.6,327.0h2M797.6,327.1h2M796.9,325.0h2M798.9,322.0h2M798.2,323.3h2M800.2,328.2h2M799.5,326.8h2M801.5,326.6h2M800.8,333.5h2M802.8,330.6h2M802.1,332.3h2M804.1,336.4h2M803.4,341.5h2M805.4,335.3h2M804.7,336.1h2M806.7,338.2h2M806.0,335.8h2M808.0,334.0h2M807.3,335.7h2M809.3,332.9h2M808.6,336.1h2M810.6,338.8h2M809.9,340.1h2M811.9,342.8h2M811.2,343.3h2M813.2,344.3h2M812.5,348.0h2M814.5,351.0h2M813.8,355.2h2M815.8,355.5h2M815.1,364.7h2M817.1,367.8h2M816.4,367.7h2M818.4,369.4h2M817.7,378.4h2M819.7,374.4h2M819.0,378.2h2M821.0,370.2h2M820.3,374.1h2M822.3,370.6h2M821.6,371.9h2M823.6,367.8h2M822.9,365.9h2M824.9,362.7h2M824.2,366.7h2M826.2,367.6h2M825.5,389.7h2M827.5,396.9h2M826.8,409.2h2M828.8,402.2h2M828.1,416.6h2M830.1,412.5h2M829.4,432.3h2M831.4,422.0h2M830.7,429.8h2M832.7,429.2h2M832.0,420.5h2M834.0,406.3h2M833.3,399.2h2M835.3,400.4h2M834.6,399.3h2M836.6,412.1h2M835.9,411.0h2M837.9,416.4h2M837.2,418.2h2M839.2,412.7h2M838.5,406.6h2M840.5,404.7h2M839.8,396.9h2M841.8,398.2h2M841.1,400.9h2M843.1,394.0h2M842.4,393.4h2M844.4,394.9h2M843.7,393.6h2M845.7,387.6h2M845.0,401.8h2M847.0,396.1h2M846.3,405.6h2M848.3,404.9h2M847.6,401.5h2M849.6,402.0h2M848.9,397.7h2M850.9,402.5h2M850.2,394.6h2M852.2,394.4h2M851.5,398.4h2M853.5,390.7h2M852.8,389.8h2M854.8,390.4h2M854.1,392.8h2M856.1,390.8h2M855.4,396.3h2M857.4,402.6h2M856.7,409.1h2M858.7,412.0h2M858.0,419.7h2M860.0,412.3h2M859.3,421.4h2M861.3,423.8h2M860.6,420.6h2M862.6,424.6h2M861.9,436.7h2M863.9,440.9h2M863.2,462.9h2M865.2,446.4h2M864.5,515.9h2M866.5,476.7h2M865.8,481.5h2M867.8,480.4h2M867.1,450.3h2M869.1,462.7h2M868.4,485.2h2M870.4,489.7h2M869.7,487.1h2M871.7,484.5h2M871.0,488.6h2M873.0,489.7h2M872.3,492.1h2M874.3,499.7h2M873.6,494.4h2M875.6,492.1h2M874.9,490.9h2M876.9,492.2h2M876.2,483.5h2M878.2,489.3h2M877.5,486.6h2M879.5,484.9h2M878.8,484.3h2M880.8,477.4h2M880.1,469.4h2M882.1,468.8h2M881.4,455.1h2M883.4,463.3h2M882.7,466.7h2M884.7,472.7h2M884.0,477.4h2M886.0,475.9h2M885.3,478.3h2M887.3,477.5h2M886.6,481.2h2M888.6,484.6h2M887.9,495.5h2M889.9,492.3h2M889.2,493.9h2M891.2,498.0h2M890.5,495.2h2M892.5,498.0h2M891.8,499.8h2M893.8,503.3h2M893.1,487.7h2M895.1,490.5h2M894.4,490.7h2M896.4,487.9h2M895.7,482.0h2M897.7,481.9h2M897.0,478.3h2M899.0,478.4h2M898.3,478.3h2M900.3,484.8h2M899.6,484.6h2M901.6,479.2h2M900.9,484.2h2M902.9,475.4h2M902.2,469.5h2M904.2,474.1h2M903.5,466.7h2M905.5,467.4h2M904.8,473.1h2M906.8,463.0h2M906.1,460.4h2M908.1,460.9h2M907.4,465.0h2M909.4,457.6h2M908.7,449.9h2M910.7,459.5h2M910.0,459.9h2M912.0,457.6h2M911.3,464.1h2M913.3,466.0h2M912.6,461.3h2M914.6,462.3h2M913.9,458.9h2M915.9,462.5h2M915.2,463.3h2M917.2,456.6h2M916.5,456.6h2M918.5,461.5h2M917.8,454.8h2M919.8,458.7h2M919.1,451.4h2M921.1,451.3h2M920.4,446.5h2M922.4,444.8h2M921.7,437.5h2M923.7,442.7h2M923.0,441.9h2M925.0,442.6h2M924.3,434.2h2M926.3,433.4h2M925.6,430.3h2M927.6,427.9h2M926.9,414.1h2M928.9,414.3h2M928.2,404.9h2M930.2,402.9h2M929.5,399.4h2M931.5,394.2h2M930.8,389.4h2M932.8,389.4h2M932.1,380.8h2M934.1,389.5h2M933.4,381.3h2M935.4,385.9h2M934.7,392.7h2M936.7,389.1h2M936.0,389.8h2M938.0,397.5h2M937.3,401.0h2M939.3,392.8h2M938.6,396.1h2M940.6,398.7h2M939.9,403.9h2M941.9,399.4h2M941.2,403.5h2M943.2,397.6h2M942.5,393.1h2M944.5,388.9h2M943.8,392.3h2M945.8,396.7h2M945.1,400.7h2M947.1,400.6h2M946.4,402.5h2M948.4,401.2h2M947.7,409.0h2M949.7,408.2h2M949.0,416.3h2M951.0,416.0h2M950.3,414.6h2M952.3,417.5h2M951.6,427.0h2M953.6,421.8h2M952.9,427.7h2M954.9,425.7h2M954.2,436.5h2M956.2,441.4h2M955.5,443.3h2M957.5,431.4h2M956.8,436.7h2M958.8,433.4h2M958.1,431.7h2M960.1,429.1h2M959.4,434.7h2M961.4,435.2h2M960.7,429.5h2M962.7,435.1h2M962.0,429.1h2M964.0,428.4h2M963.3,429.6h2M965.3,434.2h2M964.6,440.9h2M966.6,431.0h2M965.9,433.8h2M967.9,430.2h2M967.2,426.4h2M969.2,425.8h2M968.5,417.9h2M970.5,417.2h2M969.8,418.0h2M971.8,418.4h2M971.1,414.2h2M973.1,415.3h2M972.4,422.7h2M974.4,424.3h2M973.7,434.5h2M975.7,427.2h2M975.0,439.1h2M977.0,436.7h2M976.3,432.1h2M978.3,423.4h2M977.6,432.9h2M979.6,432.1h2M978.9,451.2h2M980.9,441.1h2M980.2,446.1h2M982.2,440.6h2M981.5,439.5h2M983.5,436.4h2M982.8,437.5h2M984.8,432.8h2M984.1,429.8h2M986.1,425.6h2M985.4,413.9h2M987.4,417.0h2M986.7,413.0h2M988.7,411.7h2M988.0,407.6h2M990.0,407.8h2M989.3,415.2h2M991.3,408.2h2M990.6,398.9h2M992.6,400.2h2M991.9,397.0h2M993.9,402.8h2M993.2,394.6h2M995.2,403.7h2M994.5,405.1h2M996.5,403.8h2M995.8,406.8h2M997.8,399.9h2M997.1,385.5h2M999.1,391.5h2M998.4,378.7h2M1000.4,378.2h2M999.7,367.1h2M1001.7,378.5h2M1001.0,369.7h2M1003.0,371.9h2M1002.3,350.3h2M1004.3,356.1h2M1003.6,342.8h2M1005.6,334.4h2M1004.9,326.4h2M1006.9,329.1h2M1006.2,318.6h2M1008.2,318.0h2M1007.5,308.6h2M1009.5,316.5h2M1008.8,316.5h2M1010.8,320.9h2M1010.1,317.0h2M1012.1,320.8h2M1011.4,329.4h2M1013.4,316.4h2M1012.7,311.3h2M1014.7,315.4h2M1014.0,299.7h2M1016.0,298.8h2M1015.3,293.9h2M1017.3,299.8h2M1016.6,312.3h2M1018.6,311.2h2M1017.9,327.9h2M1019.9,306.9h2M1019.2,319.9h2M1021.2,312.4h2M1020.5,324.3h2M1022.5,316.8h2M1021.8,336.0h2M1023.8,319.2h2M1023.1,332.6h2M1025.1,325.9h2M1024.4,323.2h2M1026.4,322.9h2M1025.7,312.9h2M1027.7,315.3h2M1027.0,303.4h2M1029.0,307.6h2M1028.3,295.6h2M1030.3,294.6h2M1029.6,290.2h2M1031.6,284.1h2M1030.9,273.6h2M1032.9,276.2h2M1032.2,272.7h2M1034.2,265.4h2M1033.5,259.0h2M1035.5,254.4h2M1034.8,246.0h2M1036.8,236.6h2M1036.1,224.8h2M1038.1,225.2h2M1037.4,205.5h2M1039.4,208.0h2M1038.7,208.2h2M1040.7,217.0h2M1040.0,212.7h2M1042.0,210.6h2M1041.3,233.0h2M1043.3,238.1h2M1042.6,239.8h2M1044.6,248.6h2M1043.9,252.3h2M1045.9,259.1h2M1045.2,268.0h2M1047.2,280.4h2M1046.5,278.6h2M1048.5,287.2h2M1047.8,259.6h2M1049.8,262.8h2M1049.1,251.3h2M1051.1,242.5h2M1050.4,243.1h2M1052.4,249.0h2M1051.7,264.4h2M1053.7,256.9h2M1053.0,263.3h2M1055.0,266.0h2M1054.3,281.4h2M1056.3,264.9h2M1055.6,272.5h2M1057.6,268.0h2M1056.9,264.8h2M1058.9,259.7h2M1058.2,252.2h2M1060.2,255.2h2M1059.5,245.4h2M1061.5,242.7h2M1060.8,237.0h2M1062.8,237.7h2M1062.1,244.7h2M1064.1,254.3h2M1063.4,269.8h2M1065.4,264.5h2M1064.7,264.8h2M1066.7,260.9h2M1066.0,262.0h2M1068.0,259.6h2M1067.3,271.5h2M1069.3,271.1h2M1068.6,263.7h2M1070.6,256.9h2M1069.9,260.4h2M1071.9,257.5h2M1071.2,259.1h2M1073.2,259.2h2M1072.5,262.3h2M1074.5,251.3h2M1073.8,250.5h2M1075.8,257.4h2M1075.1,247.1h2M1077.1,242.0h2M1076.4,244.6h2M1078.4,247.7h2M1077.7,243.3h2M1079.7,249.2h2M1079.0,239.0h2M1081.0,248.8h2M1080.3,248.0h2M1082.3,245.7h2M1081.6,254.2h2M1083.6,252.3h2M1082.9,248.0h2M1084.9,247.1h2M1084.2,239.8h2M1086.2,235.5h2M1085.5,248.7h2M1087.5,237.0h2M1086.8,243.4h2M1088.8,241.5h2M1088.1,210.9h2M1090.1,228.6h2M1089.4,209.4h2M1091.4,210.9h2M1090.7,207.5h2M1092.7,194.3h2M1092.0,199.9h2M1094.0,205.0h2M1093.3,202.1h2M1095.3,209.3h2M1094.6,203.8h2M1096.6,201.0h2M1095.9,194.7h2M1097.9,200.2h2M1097.2,190.2h2M1099.2,188.6h2" fill="none" stroke="#f4575b" stroke-width="1"/>
<line x1="0" y1="151.5" x2="1126" y2="151.5" stroke="#e5344f" stroke-width="2.2"/>
<line x1="1125.9" y1="52" x2="1125.9" y2="595" stroke="#de6e78" stroke-width="1.6"/>
<line x1="1125.7" y1="89.5" x2="1130" y2="89.5" stroke="#de6e78" stroke-width="1"/>
<line x1="1125.7" y1="185.5" x2="1130" y2="185.5" stroke="#de6e78" stroke-width="1"/>
<line x1="1125.7" y1="281.5" x2="1130" y2="281.5" stroke="#de6e78" stroke-width="1"/>
<line x1="1125.7" y1="377.5" x2="1130" y2="377.5" stroke="#de6e78" stroke-width="1"/>
<line x1="1125.7" y1="473.5" x2="1130" y2="473.5" stroke="#de6e78" stroke-width="1"/>
<line x1="1125.7" y1="569.5" x2="1130" y2="569.5" stroke="#de6e78" stroke-width="1"/>
<path d="M1126,134.9 L1133.6,137.5 L1126,140.1 Z" fill="#e8606c"/>
<text class="tick" transform="translate(1134.7,145.1) scale(0.975,1)">5.0</text>
<path d="M1126,230.9 L1133.6,233.5 L1126,236.1 Z" fill="#e8606c"/>
<text class="tick" transform="translate(1134.7,241.1) scale(0.975,1)">4.0</text>
<path d="M1126,326.9 L1133.6,329.5 L1126,332.1 Z" fill="#e8606c"/>
<text class="tick" transform="translate(1134.7,337.1) scale(0.975,1)">3.0</text>
<path d="M1126,422.9 L1133.6,425.5 L1126,428.1 Z" fill="#e8606c"/>
<text class="tick" transform="translate(1134.7,433.1) scale(0.975,1)">2.0</text>
<path d="M1126,518.9 L1133.6,521.5 L1126,524.1 Z" fill="#e8606c"/>
<text class="tick" transform="translate(1134.7,529.1) scale(0.975,1)">1.0</text>
<text class="year" transform="translate(32.4,641.9) scale(0.968,1.05)">2007</text>
<text class="year" transform="translate(98.1,641.9) scale(0.968,1.05)">2008</text>
<text class="year" transform="translate(163.8,641.9) scale(0.968,1.05)">2009</text>
<text class="year" transform="translate(229.5,641.9) scale(0.968,1.05)">2010</text>
<text class="year" transform="translate(295.2,641.9) scale(0.968,1.05)">2011</text>
<text class="year" transform="translate(360.8,641.9) scale(0.968,1.05)">2012</text>
<text class="year" transform="translate(426.5,641.9) scale(0.968,1.05)">2013</text>
<text class="year" transform="translate(492.2,641.9) scale(0.968,1.05)">2014</text>
<text class="year" transform="translate(557.9,641.9) scale(0.968,1.05)">2015</text>
<text class="year" transform="translate(623.6,641.9) scale(0.968,1.05)">2016</text>
<text class="year" transform="translate(689.3,641.9) scale(0.968,1.05)">2017</text>
<text class="year" transform="translate(755.0,641.9) scale(0.968,1.05)">2018</text>
<text class="year" transform="translate(820.7,641.9) scale(0.968,1.05)">2019</text>
<text class="year" transform="translate(886.4,641.9) scale(0.968,1.05)">2020</text>
<text class="year" transform="translate(952.1,641.9) scale(0.968,1.05)">2021</text>
<text class="year" transform="translate(1017.7,641.9) scale(0.968,1.05)">2022</text>
<text class="year" transform="translate(1083.4,641.9) scale(0.968,1.05)">2023</text>
<text class="ylab" transform="translate(1175.9,325.4) rotate(90) scale(0.953,1)">Percent</text>
<text class="src" transform="translate(5,667.7) scale(1,1.057)" style="letter-spacing:0.85px">Source:</text> <text class="src" transform="translate(88,667.7) scale(1,1.057)">Bloomberg</text>
<text class="logo" transform="translate(1047.5,666.8) scale(1,1.06)">Bloomberg</text>
<g><path d="M1180.8,649.3 h13.2 a2,2 0 0 1 2,2 v13.3 a2,2 0 0 1 -2,2 h-4 l-2.6,3.2 l-2.6,-3.2 h-4 a2,2 0 0 1 -2,-2 v-13.3 a2,2 0 0 1 2,-2 z" fill="#0c0c0c"/><rect x="1181.3" y="659.2" width="1.8" height="3.8" fill="#fff"/><rect x="1184.9" y="655.8" width="1.7" height="7.2" fill="#fff"/><rect x="1188.1" y="653.7" width="1.8" height="9.3" fill="#fff"/><rect x="1191.7" y="658.9" width="1.6" height="4.1" fill="#fff"/></g>
</svg>
</body></html>
